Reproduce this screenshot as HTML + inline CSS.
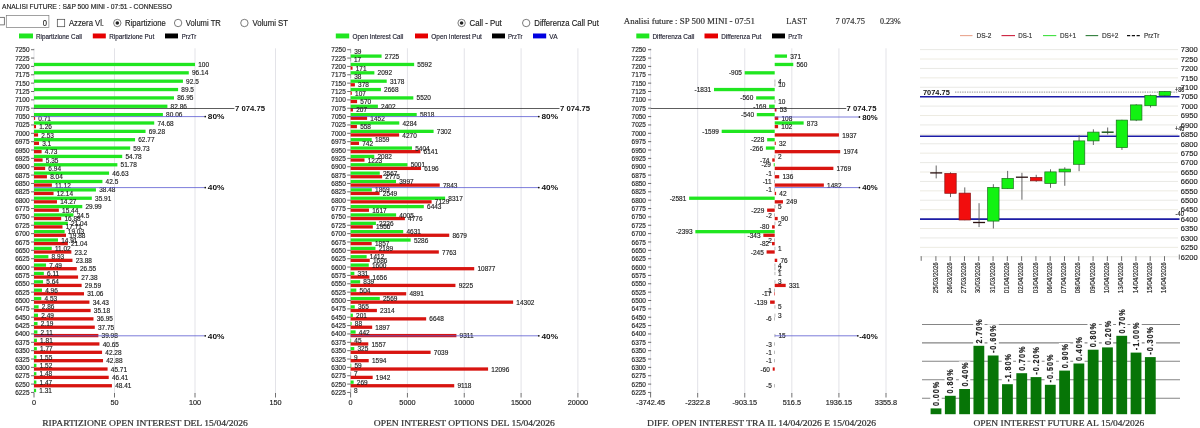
<!DOCTYPE html>
<html lang="it"><head><meta charset="utf-8"><title>ANALISI FUTURE : S&amp;P 500 MINI</title>
<style>html,body{margin:0;padding:0;background:#fff;overflow:hidden}body{width:1200px;height:428px}svg{display:block;filter:blur(0.35px);font-family:"Liberation Sans",sans-serif}</style>
</head><body>
<svg width="1200" height="428" viewBox="0 0 1200 428">
<rect width="1200" height="428" fill="#fff"/>
<text x="2.00" y="8.90" font-size="7" fill="#222" stroke="#222" stroke-width="0.16" textLength="170.00" lengthAdjust="spacingAndGlyphs">ANALISI FUTURE : S&amp;P 500 MINI - 07:51 - CONNESSO</text>
<rect x="-3" y="17.3" width="7.3" height="7.6" fill="#fff" stroke="#444" stroke-width="0.7"/>
<rect x="6.3" y="15.6" width="42.6" height="11.8" fill="#fff" stroke="#7a7a7a" stroke-width="0.7"/>
<text transform="translate(47.00 25.80) scale(0.9091 1)" font-size="8.36" fill="#222" text-anchor="end" stroke="#222" stroke-width="0.16">0</text>
<rect x="57.3" y="19.3" width="7.4" height="7.4" fill="#fff" stroke="#444" stroke-width="0.7"/>
<text x="69.00" y="26.20" font-size="8.6" fill="#222" stroke="#222" stroke-width="0.16" textLength="35.00" lengthAdjust="spacingAndGlyphs">Azzera Vl.</text>
<circle cx="117.3" cy="23" r="3.7" fill="#fff" stroke="#444" stroke-width="0.7"/>
<circle cx="117.3" cy="23" r="1.8" fill="#222"/>
<text x="125.00" y="26.20" font-size="8.6" fill="#222" stroke="#222" stroke-width="0.16" textLength="40.80" lengthAdjust="spacingAndGlyphs">Ripartizione</text>
<circle cx="178.1" cy="23" r="3.7" fill="#fff" stroke="#444" stroke-width="0.7"/>
<text x="185.80" y="26.20" font-size="8.6" fill="#222" stroke="#222" stroke-width="0.16" textLength="35.00" lengthAdjust="spacingAndGlyphs">Volumi TR</text>
<circle cx="244.4" cy="23" r="3.7" fill="#fff" stroke="#444" stroke-width="0.7"/>
<text x="252.50" y="26.20" font-size="8.6" fill="#222" stroke="#222" stroke-width="0.16" textLength="35.50" lengthAdjust="spacingAndGlyphs">Volumi ST</text>
<circle cx="461.6" cy="23" r="3.7" fill="#fff" stroke="#444" stroke-width="0.7"/>
<circle cx="461.6" cy="23" r="1.8" fill="#222"/>
<text x="469.50" y="26.20" font-size="8.6" fill="#222" stroke="#222" stroke-width="0.16" textLength="32.30" lengthAdjust="spacingAndGlyphs">Call - Put</text>
<circle cx="526.2" cy="23" r="3.7" fill="#fff" stroke="#444" stroke-width="0.7"/>
<text x="534.30" y="26.20" font-size="8.6" fill="#222" stroke="#222" stroke-width="0.16" textLength="64.50" lengthAdjust="spacingAndGlyphs">Differenza Call Put</text>
<text x="623.80" y="23.80" font-size="7.2" fill="#333" font-family='"Liberation Serif", serif' stroke="#333" stroke-width="0.16" textLength="131.20" lengthAdjust="spacingAndGlyphs">Analisi future : SP 500 MINI - 07:51</text>
<text x="786.30" y="23.80" font-size="7.2" fill="#333" font-family='"Liberation Serif", serif' stroke="#333" stroke-width="0.16" textLength="20.70" lengthAdjust="spacingAndGlyphs">LAST</text>
<text x="835.50" y="23.80" font-size="7.2" fill="#333" font-family='"Liberation Serif", serif' stroke="#333" stroke-width="0.16" textLength="29.50" lengthAdjust="spacingAndGlyphs">7 074.75</text>
<text x="880.00" y="23.80" font-size="7.2" fill="#333" font-family='"Liberation Serif", serif' stroke="#333" stroke-width="0.16" textLength="20.80" lengthAdjust="spacingAndGlyphs">0.23%</text>
<rect x="19.00" y="33.50" width="14.00" height="4.90" fill="#20e620"/>
<text x="36.00" y="38.70" font-size="7.0" fill="#223" stroke="#223" stroke-width="0.16" textLength="46.00" lengthAdjust="spacingAndGlyphs">Ripartizione Call</text>
<rect x="92.80" y="33.50" width="13.00" height="4.90" fill="#e60000"/>
<text x="109.20" y="38.70" font-size="7.0" fill="#223" stroke="#223" stroke-width="0.16" textLength="45.00" lengthAdjust="spacingAndGlyphs">Ripartizione Put</text>
<rect x="165.00" y="33.50" width="13.00" height="4.90" fill="#000"/>
<text x="181.70" y="38.70" font-size="7.0" fill="#223" stroke="#223" stroke-width="0.16" textLength="14.60" lengthAdjust="spacingAndGlyphs">PrzTr</text>
<rect x="335.80" y="33.50" width="13.40" height="4.90" fill="#20e620"/>
<text x="352.50" y="38.70" font-size="7.0" fill="#223" stroke="#223" stroke-width="0.16" textLength="50.80" lengthAdjust="spacingAndGlyphs">Open Interest Call</text>
<rect x="415.00" y="33.50" width="13.00" height="4.90" fill="#e60000"/>
<text x="431.30" y="38.70" font-size="7.0" fill="#223" stroke="#223" stroke-width="0.16" textLength="50.50" lengthAdjust="spacingAndGlyphs">Open Interest Put</text>
<rect x="492.00" y="33.50" width="13.00" height="4.90" fill="#000"/>
<text x="508.00" y="38.70" font-size="7.0" fill="#223" stroke="#223" stroke-width="0.16" textLength="14.50" lengthAdjust="spacingAndGlyphs">PrzTr</text>
<rect x="533.00" y="33.50" width="13.20" height="4.90" fill="#0000e0"/>
<text x="549.30" y="38.70" font-size="7.0" fill="#223" stroke="#223" stroke-width="0.16" textLength="8.20" lengthAdjust="spacingAndGlyphs">VA</text>
<rect x="636.30" y="33.50" width="13.00" height="4.90" fill="#20e620"/>
<text x="652.50" y="38.70" font-size="7.0" fill="#223" stroke="#223" stroke-width="0.16" textLength="41.80" lengthAdjust="spacingAndGlyphs">Differenza Call</text>
<rect x="704.50" y="33.50" width="13.50" height="4.90" fill="#e60000"/>
<text x="721.30" y="38.70" font-size="7.0" fill="#223" stroke="#223" stroke-width="0.16" textLength="40.00" lengthAdjust="spacingAndGlyphs">Differenza Put</text>
<rect x="772.00" y="33.50" width="13.00" height="4.90" fill="#000"/>
<text x="788.30" y="38.70" font-size="7.0" fill="#223" stroke="#223" stroke-width="0.16" textLength="14.30" lengthAdjust="spacingAndGlyphs">PrzTr</text>
<line x1="34.00" y1="48.30" x2="34.00" y2="393.50" stroke="#dcdce2" stroke-width="0.8"/>
<line x1="114.50" y1="48.30" x2="114.50" y2="393.50" stroke="#dcdce2" stroke-width="0.8"/>
<line x1="195.00" y1="48.30" x2="195.00" y2="393.50" stroke="#dcdce2" stroke-width="0.8"/>
<line x1="275.50" y1="48.30" x2="275.50" y2="393.50" stroke="#dcdce2" stroke-width="0.8"/>
<text transform="translate(29.60 52.25) scale(0.9091 1)" font-size="7.15" fill="#1c1c1c" text-anchor="end" stroke="#1c1c1c" stroke-width="0.16">7250</text>
<line x1="31.00" y1="49.70" x2="34.20" y2="49.70" stroke="#333" stroke-width="0.7"/>
<text transform="translate(29.60 60.61) scale(0.9091 1)" font-size="7.15" fill="#1c1c1c" text-anchor="end" stroke="#1c1c1c" stroke-width="0.16">7225</text>
<line x1="31.00" y1="58.06" x2="34.20" y2="58.06" stroke="#333" stroke-width="0.7"/>
<text transform="translate(29.60 68.97) scale(0.9091 1)" font-size="7.15" fill="#1c1c1c" text-anchor="end" stroke="#1c1c1c" stroke-width="0.16">7200</text>
<line x1="31.00" y1="66.42" x2="34.20" y2="66.42" stroke="#333" stroke-width="0.7"/>
<text transform="translate(29.60 77.33) scale(0.9091 1)" font-size="7.15" fill="#1c1c1c" text-anchor="end" stroke="#1c1c1c" stroke-width="0.16">7175</text>
<line x1="31.00" y1="74.78" x2="34.20" y2="74.78" stroke="#333" stroke-width="0.7"/>
<text transform="translate(29.60 85.69) scale(0.9091 1)" font-size="7.15" fill="#1c1c1c" text-anchor="end" stroke="#1c1c1c" stroke-width="0.16">7150</text>
<line x1="31.00" y1="83.14" x2="34.20" y2="83.14" stroke="#333" stroke-width="0.7"/>
<text transform="translate(29.60 94.05) scale(0.9091 1)" font-size="7.15" fill="#1c1c1c" text-anchor="end" stroke="#1c1c1c" stroke-width="0.16">7125</text>
<line x1="31.00" y1="91.50" x2="34.20" y2="91.50" stroke="#333" stroke-width="0.7"/>
<text transform="translate(29.60 102.41) scale(0.9091 1)" font-size="7.15" fill="#1c1c1c" text-anchor="end" stroke="#1c1c1c" stroke-width="0.16">7100</text>
<line x1="31.00" y1="99.86" x2="34.20" y2="99.86" stroke="#333" stroke-width="0.7"/>
<text transform="translate(29.60 110.77) scale(0.9091 1)" font-size="7.15" fill="#1c1c1c" text-anchor="end" stroke="#1c1c1c" stroke-width="0.16">7075</text>
<line x1="31.00" y1="108.22" x2="34.20" y2="108.22" stroke="#333" stroke-width="0.7"/>
<text transform="translate(29.60 119.13) scale(0.9091 1)" font-size="7.15" fill="#1c1c1c" text-anchor="end" stroke="#1c1c1c" stroke-width="0.16">7050</text>
<line x1="31.00" y1="116.58" x2="34.20" y2="116.58" stroke="#333" stroke-width="0.7"/>
<text transform="translate(29.60 127.49) scale(0.9091 1)" font-size="7.15" fill="#1c1c1c" text-anchor="end" stroke="#1c1c1c" stroke-width="0.16">7025</text>
<line x1="31.00" y1="124.94" x2="34.20" y2="124.94" stroke="#333" stroke-width="0.7"/>
<text transform="translate(29.60 135.85) scale(0.9091 1)" font-size="7.15" fill="#1c1c1c" text-anchor="end" stroke="#1c1c1c" stroke-width="0.16">7000</text>
<line x1="31.00" y1="133.30" x2="34.20" y2="133.30" stroke="#333" stroke-width="0.7"/>
<text transform="translate(29.60 144.21) scale(0.9091 1)" font-size="7.15" fill="#1c1c1c" text-anchor="end" stroke="#1c1c1c" stroke-width="0.16">6975</text>
<line x1="31.00" y1="141.66" x2="34.20" y2="141.66" stroke="#333" stroke-width="0.7"/>
<text transform="translate(29.60 152.57) scale(0.9091 1)" font-size="7.15" fill="#1c1c1c" text-anchor="end" stroke="#1c1c1c" stroke-width="0.16">6950</text>
<line x1="31.00" y1="150.02" x2="34.20" y2="150.02" stroke="#333" stroke-width="0.7"/>
<text transform="translate(29.60 160.93) scale(0.9091 1)" font-size="7.15" fill="#1c1c1c" text-anchor="end" stroke="#1c1c1c" stroke-width="0.16">6925</text>
<line x1="31.00" y1="158.38" x2="34.20" y2="158.38" stroke="#333" stroke-width="0.7"/>
<text transform="translate(29.60 169.29) scale(0.9091 1)" font-size="7.15" fill="#1c1c1c" text-anchor="end" stroke="#1c1c1c" stroke-width="0.16">6900</text>
<line x1="31.00" y1="166.74" x2="34.20" y2="166.74" stroke="#333" stroke-width="0.7"/>
<text transform="translate(29.60 177.65) scale(0.9091 1)" font-size="7.15" fill="#1c1c1c" text-anchor="end" stroke="#1c1c1c" stroke-width="0.16">6875</text>
<line x1="31.00" y1="175.10" x2="34.20" y2="175.10" stroke="#333" stroke-width="0.7"/>
<text transform="translate(29.60 186.01) scale(0.9091 1)" font-size="7.15" fill="#1c1c1c" text-anchor="end" stroke="#1c1c1c" stroke-width="0.16">6850</text>
<line x1="31.00" y1="183.46" x2="34.20" y2="183.46" stroke="#333" stroke-width="0.7"/>
<text transform="translate(29.60 194.37) scale(0.9091 1)" font-size="7.15" fill="#1c1c1c" text-anchor="end" stroke="#1c1c1c" stroke-width="0.16">6825</text>
<line x1="31.00" y1="191.82" x2="34.20" y2="191.82" stroke="#333" stroke-width="0.7"/>
<text transform="translate(29.60 202.73) scale(0.9091 1)" font-size="7.15" fill="#1c1c1c" text-anchor="end" stroke="#1c1c1c" stroke-width="0.16">6800</text>
<line x1="31.00" y1="200.18" x2="34.20" y2="200.18" stroke="#333" stroke-width="0.7"/>
<text transform="translate(29.60 211.09) scale(0.9091 1)" font-size="7.15" fill="#1c1c1c" text-anchor="end" stroke="#1c1c1c" stroke-width="0.16">6775</text>
<line x1="31.00" y1="208.54" x2="34.20" y2="208.54" stroke="#333" stroke-width="0.7"/>
<text transform="translate(29.60 219.45) scale(0.9091 1)" font-size="7.15" fill="#1c1c1c" text-anchor="end" stroke="#1c1c1c" stroke-width="0.16">6750</text>
<line x1="31.00" y1="216.90" x2="34.20" y2="216.90" stroke="#333" stroke-width="0.7"/>
<text transform="translate(29.60 227.81) scale(0.9091 1)" font-size="7.15" fill="#1c1c1c" text-anchor="end" stroke="#1c1c1c" stroke-width="0.16">6725</text>
<line x1="31.00" y1="225.26" x2="34.20" y2="225.26" stroke="#333" stroke-width="0.7"/>
<text transform="translate(29.60 236.17) scale(0.9091 1)" font-size="7.15" fill="#1c1c1c" text-anchor="end" stroke="#1c1c1c" stroke-width="0.16">6700</text>
<line x1="31.00" y1="233.62" x2="34.20" y2="233.62" stroke="#333" stroke-width="0.7"/>
<text transform="translate(29.60 244.53) scale(0.9091 1)" font-size="7.15" fill="#1c1c1c" text-anchor="end" stroke="#1c1c1c" stroke-width="0.16">6675</text>
<line x1="31.00" y1="241.98" x2="34.20" y2="241.98" stroke="#333" stroke-width="0.7"/>
<text transform="translate(29.60 252.89) scale(0.9091 1)" font-size="7.15" fill="#1c1c1c" text-anchor="end" stroke="#1c1c1c" stroke-width="0.16">6650</text>
<line x1="31.00" y1="250.34" x2="34.20" y2="250.34" stroke="#333" stroke-width="0.7"/>
<text transform="translate(29.60 261.25) scale(0.9091 1)" font-size="7.15" fill="#1c1c1c" text-anchor="end" stroke="#1c1c1c" stroke-width="0.16">6625</text>
<line x1="31.00" y1="258.70" x2="34.20" y2="258.70" stroke="#333" stroke-width="0.7"/>
<text transform="translate(29.60 269.61) scale(0.9091 1)" font-size="7.15" fill="#1c1c1c" text-anchor="end" stroke="#1c1c1c" stroke-width="0.16">6600</text>
<line x1="31.00" y1="267.06" x2="34.20" y2="267.06" stroke="#333" stroke-width="0.7"/>
<text transform="translate(29.60 277.97) scale(0.9091 1)" font-size="7.15" fill="#1c1c1c" text-anchor="end" stroke="#1c1c1c" stroke-width="0.16">6575</text>
<line x1="31.00" y1="275.42" x2="34.20" y2="275.42" stroke="#333" stroke-width="0.7"/>
<text transform="translate(29.60 286.33) scale(0.9091 1)" font-size="7.15" fill="#1c1c1c" text-anchor="end" stroke="#1c1c1c" stroke-width="0.16">6550</text>
<line x1="31.00" y1="283.78" x2="34.20" y2="283.78" stroke="#333" stroke-width="0.7"/>
<text transform="translate(29.60 294.69) scale(0.9091 1)" font-size="7.15" fill="#1c1c1c" text-anchor="end" stroke="#1c1c1c" stroke-width="0.16">6525</text>
<line x1="31.00" y1="292.14" x2="34.20" y2="292.14" stroke="#333" stroke-width="0.7"/>
<text transform="translate(29.60 303.05) scale(0.9091 1)" font-size="7.15" fill="#1c1c1c" text-anchor="end" stroke="#1c1c1c" stroke-width="0.16">6500</text>
<line x1="31.00" y1="300.50" x2="34.20" y2="300.50" stroke="#333" stroke-width="0.7"/>
<text transform="translate(29.60 311.41) scale(0.9091 1)" font-size="7.15" fill="#1c1c1c" text-anchor="end" stroke="#1c1c1c" stroke-width="0.16">6475</text>
<line x1="31.00" y1="308.86" x2="34.20" y2="308.86" stroke="#333" stroke-width="0.7"/>
<text transform="translate(29.60 319.77) scale(0.9091 1)" font-size="7.15" fill="#1c1c1c" text-anchor="end" stroke="#1c1c1c" stroke-width="0.16">6450</text>
<line x1="31.00" y1="317.22" x2="34.20" y2="317.22" stroke="#333" stroke-width="0.7"/>
<text transform="translate(29.60 328.13) scale(0.9091 1)" font-size="7.15" fill="#1c1c1c" text-anchor="end" stroke="#1c1c1c" stroke-width="0.16">6425</text>
<line x1="31.00" y1="325.58" x2="34.20" y2="325.58" stroke="#333" stroke-width="0.7"/>
<text transform="translate(29.60 336.49) scale(0.9091 1)" font-size="7.15" fill="#1c1c1c" text-anchor="end" stroke="#1c1c1c" stroke-width="0.16">6400</text>
<line x1="31.00" y1="333.94" x2="34.20" y2="333.94" stroke="#333" stroke-width="0.7"/>
<text transform="translate(29.60 344.85) scale(0.9091 1)" font-size="7.15" fill="#1c1c1c" text-anchor="end" stroke="#1c1c1c" stroke-width="0.16">6375</text>
<line x1="31.00" y1="342.30" x2="34.20" y2="342.30" stroke="#333" stroke-width="0.7"/>
<text transform="translate(29.60 353.21) scale(0.9091 1)" font-size="7.15" fill="#1c1c1c" text-anchor="end" stroke="#1c1c1c" stroke-width="0.16">6350</text>
<line x1="31.00" y1="350.66" x2="34.20" y2="350.66" stroke="#333" stroke-width="0.7"/>
<text transform="translate(29.60 361.57) scale(0.9091 1)" font-size="7.15" fill="#1c1c1c" text-anchor="end" stroke="#1c1c1c" stroke-width="0.16">6325</text>
<line x1="31.00" y1="359.02" x2="34.20" y2="359.02" stroke="#333" stroke-width="0.7"/>
<text transform="translate(29.60 369.93) scale(0.9091 1)" font-size="7.15" fill="#1c1c1c" text-anchor="end" stroke="#1c1c1c" stroke-width="0.16">6300</text>
<line x1="31.00" y1="367.38" x2="34.20" y2="367.38" stroke="#333" stroke-width="0.7"/>
<text transform="translate(29.60 378.29) scale(0.9091 1)" font-size="7.15" fill="#1c1c1c" text-anchor="end" stroke="#1c1c1c" stroke-width="0.16">6275</text>
<line x1="31.00" y1="375.74" x2="34.20" y2="375.74" stroke="#333" stroke-width="0.7"/>
<text transform="translate(29.60 386.65) scale(0.9091 1)" font-size="7.15" fill="#1c1c1c" text-anchor="end" stroke="#1c1c1c" stroke-width="0.16">6250</text>
<line x1="31.00" y1="384.10" x2="34.20" y2="384.10" stroke="#333" stroke-width="0.7"/>
<text transform="translate(29.60 395.01) scale(0.9091 1)" font-size="7.15" fill="#1c1c1c" text-anchor="end" stroke="#1c1c1c" stroke-width="0.16">6225</text>
<line x1="31.00" y1="392.46" x2="34.20" y2="392.46" stroke="#333" stroke-width="0.7"/>
<rect x="34.00" y="62.82" width="161.00" height="3.30" fill="#20e620"/>
<rect x="34.00" y="71.18" width="154.79" height="3.30" fill="#20e620"/>
<rect x="34.00" y="79.54" width="148.93" height="3.30" fill="#20e620"/>
<rect x="34.00" y="87.90" width="144.09" height="3.30" fill="#20e620"/>
<rect x="34.00" y="96.26" width="139.99" height="3.30" fill="#20e620"/>
<rect x="34.00" y="104.62" width="133.40" height="3.30" fill="#20e620"/>
<rect x="34.00" y="112.98" width="128.90" height="3.30" fill="#20e620"/>
<rect x="34.00" y="116.58" width="1.14" height="3.30" fill="#d81410"/>
<rect x="34.00" y="121.34" width="120.23" height="3.30" fill="#20e620"/>
<rect x="34.00" y="124.94" width="2.03" height="3.30" fill="#d81410"/>
<rect x="34.00" y="129.70" width="111.54" height="3.30" fill="#20e620"/>
<rect x="34.00" y="133.30" width="4.07" height="3.30" fill="#d81410"/>
<rect x="34.00" y="138.06" width="101.06" height="3.30" fill="#20e620"/>
<rect x="34.00" y="141.66" width="4.99" height="3.30" fill="#d81410"/>
<rect x="34.00" y="146.42" width="96.17" height="3.30" fill="#20e620"/>
<rect x="34.00" y="150.02" width="7.62" height="3.30" fill="#d81410"/>
<rect x="34.00" y="154.78" width="88.20" height="3.30" fill="#20e620"/>
<rect x="34.00" y="158.38" width="8.61" height="3.30" fill="#d81410"/>
<rect x="34.00" y="163.14" width="83.37" height="3.30" fill="#20e620"/>
<rect x="34.00" y="166.74" width="11.17" height="3.30" fill="#d81410"/>
<rect x="34.00" y="171.50" width="75.07" height="3.30" fill="#20e620"/>
<rect x="34.00" y="175.10" width="12.94" height="3.30" fill="#d81410"/>
<rect x="34.00" y="179.86" width="68.42" height="3.30" fill="#20e620"/>
<rect x="34.00" y="183.46" width="17.90" height="3.30" fill="#d81410"/>
<rect x="34.00" y="188.22" width="61.95" height="3.30" fill="#20e620"/>
<rect x="34.00" y="191.82" width="19.55" height="3.30" fill="#d81410"/>
<rect x="34.00" y="196.58" width="57.82" height="3.30" fill="#20e620"/>
<rect x="34.00" y="200.18" width="22.97" height="3.30" fill="#d81410"/>
<rect x="34.00" y="204.94" width="48.28" height="3.30" fill="#20e620"/>
<rect x="34.00" y="208.54" width="24.86" height="3.30" fill="#d81410"/>
<rect x="34.00" y="213.30" width="39.45" height="3.30" fill="#20e620"/>
<rect x="34.00" y="216.90" width="27.18" height="3.30" fill="#d81410"/>
<rect x="34.00" y="221.66" width="33.87" height="3.30" fill="#20e620"/>
<rect x="34.00" y="225.26" width="28.51" height="3.30" fill="#d81410"/>
<rect x="34.00" y="230.02" width="30.64" height="3.30" fill="#20e620"/>
<rect x="34.00" y="233.62" width="32.01" height="3.30" fill="#d81410"/>
<rect x="34.00" y="238.38" width="24.01" height="3.30" fill="#20e620"/>
<rect x="34.00" y="241.98" width="33.87" height="3.30" fill="#d81410"/>
<rect x="34.00" y="246.74" width="17.74" height="3.30" fill="#20e620"/>
<rect x="34.00" y="250.34" width="37.35" height="3.30" fill="#d81410"/>
<rect x="34.00" y="255.10" width="14.38" height="3.30" fill="#20e620"/>
<rect x="34.00" y="258.70" width="38.45" height="3.30" fill="#d81410"/>
<rect x="34.00" y="263.46" width="12.06" height="3.30" fill="#20e620"/>
<rect x="34.00" y="267.06" width="42.75" height="3.30" fill="#d81410"/>
<rect x="34.00" y="271.82" width="9.84" height="3.30" fill="#20e620"/>
<rect x="34.00" y="275.42" width="44.08" height="3.30" fill="#d81410"/>
<rect x="34.00" y="280.18" width="9.08" height="3.30" fill="#20e620"/>
<rect x="34.00" y="283.78" width="47.64" height="3.30" fill="#d81410"/>
<rect x="34.00" y="288.54" width="7.99" height="3.30" fill="#20e620"/>
<rect x="34.00" y="292.14" width="50.01" height="3.30" fill="#d81410"/>
<rect x="34.00" y="296.90" width="7.29" height="3.30" fill="#20e620"/>
<rect x="34.00" y="300.50" width="55.43" height="3.30" fill="#d81410"/>
<rect x="34.00" y="305.26" width="4.60" height="3.30" fill="#20e620"/>
<rect x="34.00" y="308.86" width="56.64" height="3.30" fill="#d81410"/>
<rect x="34.00" y="313.62" width="4.01" height="3.30" fill="#20e620"/>
<rect x="34.00" y="317.22" width="59.49" height="3.30" fill="#d81410"/>
<rect x="34.00" y="321.98" width="3.53" height="3.30" fill="#20e620"/>
<rect x="34.00" y="325.58" width="60.78" height="3.30" fill="#d81410"/>
<rect x="34.00" y="330.34" width="3.40" height="3.30" fill="#20e620"/>
<rect x="34.00" y="333.94" width="64.37" height="3.30" fill="#d81410"/>
<rect x="34.00" y="338.70" width="2.91" height="3.30" fill="#20e620"/>
<rect x="34.00" y="342.30" width="65.45" height="3.30" fill="#d81410"/>
<rect x="34.00" y="347.06" width="2.85" height="3.30" fill="#20e620"/>
<rect x="34.00" y="350.66" width="68.07" height="3.30" fill="#d81410"/>
<rect x="34.00" y="355.42" width="2.50" height="3.30" fill="#20e620"/>
<rect x="34.00" y="359.02" width="69.04" height="3.30" fill="#d81410"/>
<rect x="34.00" y="363.78" width="2.45" height="3.30" fill="#20e620"/>
<rect x="34.00" y="367.38" width="73.59" height="3.30" fill="#d81410"/>
<rect x="34.00" y="372.14" width="2.38" height="3.30" fill="#20e620"/>
<rect x="34.00" y="375.74" width="74.72" height="3.30" fill="#d81410"/>
<rect x="34.00" y="380.50" width="2.37" height="3.30" fill="#20e620"/>
<rect x="34.00" y="384.10" width="77.94" height="3.30" fill="#d81410"/>
<rect x="34.00" y="388.86" width="2.11" height="3.30" fill="#20e620"/>
<text transform="translate(198.20 67.02) scale(0.9091 1)" font-size="7.15" fill="#1c1c1c" stroke="#1c1c1c" stroke-width="0.16">100</text>
<text transform="translate(191.99 75.38) scale(0.9091 1)" font-size="7.15" fill="#1c1c1c" stroke="#1c1c1c" stroke-width="0.16">96.14</text>
<text transform="translate(186.12 83.74) scale(0.9091 1)" font-size="7.15" fill="#1c1c1c" stroke="#1c1c1c" stroke-width="0.16">92.5</text>
<text transform="translate(181.29 92.10) scale(0.9091 1)" font-size="7.15" fill="#1c1c1c" stroke="#1c1c1c" stroke-width="0.16">89.5</text>
<text transform="translate(177.19 100.46) scale(0.9091 1)" font-size="7.15" fill="#1c1c1c" stroke="#1c1c1c" stroke-width="0.16">86.95</text>
<text transform="translate(170.60 108.82) scale(0.9091 1)" font-size="7.15" fill="#1c1c1c" stroke="#1c1c1c" stroke-width="0.16">82.86</text>
<text transform="translate(166.10 117.18) scale(0.9091 1)" font-size="7.15" fill="#1c1c1c" stroke="#1c1c1c" stroke-width="0.16">80.06</text>
<text transform="translate(38.34 120.78) scale(0.9091 1)" font-size="7.15" fill="#1c1c1c" stroke="#1c1c1c" stroke-width="0.16">0.71</text>
<text transform="translate(157.43 125.54) scale(0.9091 1)" font-size="7.15" fill="#1c1c1c" stroke="#1c1c1c" stroke-width="0.16">74.68</text>
<text transform="translate(39.23 129.14) scale(0.9091 1)" font-size="7.15" fill="#1c1c1c" stroke="#1c1c1c" stroke-width="0.16">1.26</text>
<text transform="translate(148.74 133.90) scale(0.9091 1)" font-size="7.15" fill="#1c1c1c" stroke="#1c1c1c" stroke-width="0.16">69.28</text>
<text transform="translate(41.27 137.50) scale(0.9091 1)" font-size="7.15" fill="#1c1c1c" stroke="#1c1c1c" stroke-width="0.16">2.53</text>
<text transform="translate(138.26 142.26) scale(0.9091 1)" font-size="7.15" fill="#1c1c1c" stroke="#1c1c1c" stroke-width="0.16">62.77</text>
<text transform="translate(42.19 145.86) scale(0.9091 1)" font-size="7.15" fill="#1c1c1c" stroke="#1c1c1c" stroke-width="0.16">3.1</text>
<text transform="translate(133.37 150.62) scale(0.9091 1)" font-size="7.15" fill="#1c1c1c" stroke="#1c1c1c" stroke-width="0.16">59.73</text>
<text transform="translate(44.82 154.22) scale(0.9091 1)" font-size="7.15" fill="#1c1c1c" stroke="#1c1c1c" stroke-width="0.16">4.73</text>
<text transform="translate(125.40 158.98) scale(0.9091 1)" font-size="7.15" fill="#1c1c1c" stroke="#1c1c1c" stroke-width="0.16">54.78</text>
<text transform="translate(45.81 162.58) scale(0.9091 1)" font-size="7.15" fill="#1c1c1c" stroke="#1c1c1c" stroke-width="0.16">5.35</text>
<text transform="translate(120.57 167.34) scale(0.9091 1)" font-size="7.15" fill="#1c1c1c" stroke="#1c1c1c" stroke-width="0.16">51.78</text>
<text transform="translate(48.37 170.94) scale(0.9091 1)" font-size="7.15" fill="#1c1c1c" stroke="#1c1c1c" stroke-width="0.16">6.94</text>
<text transform="translate(112.27 175.70) scale(0.9091 1)" font-size="7.15" fill="#1c1c1c" stroke="#1c1c1c" stroke-width="0.16">46.63</text>
<text transform="translate(50.14 179.30) scale(0.9091 1)" font-size="7.15" fill="#1c1c1c" stroke="#1c1c1c" stroke-width="0.16">8.04</text>
<text transform="translate(105.62 184.06) scale(0.9091 1)" font-size="7.15" fill="#1c1c1c" stroke="#1c1c1c" stroke-width="0.16">42.5</text>
<text transform="translate(55.10 187.66) scale(0.9091 1)" font-size="7.15" fill="#1c1c1c" stroke="#1c1c1c" stroke-width="0.16">11.12</text>
<text transform="translate(99.15 192.42) scale(0.9091 1)" font-size="7.15" fill="#1c1c1c" stroke="#1c1c1c" stroke-width="0.16">38.48</text>
<text transform="translate(56.75 196.02) scale(0.9091 1)" font-size="7.15" fill="#1c1c1c" stroke="#1c1c1c" stroke-width="0.16">12.14</text>
<text transform="translate(95.02 200.78) scale(0.9091 1)" font-size="7.15" fill="#1c1c1c" stroke="#1c1c1c" stroke-width="0.16">35.91</text>
<text transform="translate(60.17 204.38) scale(0.9091 1)" font-size="7.15" fill="#1c1c1c" stroke="#1c1c1c" stroke-width="0.16">14.27</text>
<text transform="translate(85.48 209.14) scale(0.9091 1)" font-size="7.15" fill="#1c1c1c" stroke="#1c1c1c" stroke-width="0.16">29.99</text>
<text transform="translate(62.06 212.74) scale(0.9091 1)" font-size="7.15" fill="#1c1c1c" stroke="#1c1c1c" stroke-width="0.16">15.44</text>
<text transform="translate(76.64 217.50) scale(0.9091 1)" font-size="7.15" fill="#1c1c1c" stroke="#1c1c1c" stroke-width="0.16">24.5</text>
<text transform="translate(64.38 221.10) scale(0.9091 1)" font-size="7.15" fill="#1c1c1c" stroke="#1c1c1c" stroke-width="0.16">16.88</text>
<text transform="translate(71.07 225.86) scale(0.9091 1)" font-size="7.15" fill="#1c1c1c" stroke="#1c1c1c" stroke-width="0.16">21.04</text>
<text transform="translate(65.71 229.46) scale(0.9091 1)" font-size="7.15" fill="#1c1c1c" stroke="#1c1c1c" stroke-width="0.16">17.71</text>
<text transform="translate(67.84 234.22) scale(0.9091 1)" font-size="7.15" fill="#1c1c1c" stroke="#1c1c1c" stroke-width="0.16">19.03</text>
<text transform="translate(69.21 237.82) scale(0.9091 1)" font-size="7.15" fill="#1c1c1c" stroke="#1c1c1c" stroke-width="0.16">19.88</text>
<text transform="translate(61.21 242.58) scale(0.9091 1)" font-size="7.15" fill="#1c1c1c" stroke="#1c1c1c" stroke-width="0.16">14.91</text>
<text transform="translate(71.07 246.18) scale(0.9091 1)" font-size="7.15" fill="#1c1c1c" stroke="#1c1c1c" stroke-width="0.16">21.04</text>
<text transform="translate(54.94 250.94) scale(0.9091 1)" font-size="7.15" fill="#1c1c1c" stroke="#1c1c1c" stroke-width="0.16">11.02</text>
<text transform="translate(74.55 254.54) scale(0.9091 1)" font-size="7.15" fill="#1c1c1c" stroke="#1c1c1c" stroke-width="0.16">23.2</text>
<text transform="translate(51.58 259.30) scale(0.9091 1)" font-size="7.15" fill="#1c1c1c" stroke="#1c1c1c" stroke-width="0.16">8.93</text>
<text transform="translate(75.65 262.90) scale(0.9091 1)" font-size="7.15" fill="#1c1c1c" stroke="#1c1c1c" stroke-width="0.16">23.88</text>
<text transform="translate(49.26 267.66) scale(0.9091 1)" font-size="7.15" fill="#1c1c1c" stroke="#1c1c1c" stroke-width="0.16">7.49</text>
<text transform="translate(79.95 271.26) scale(0.9091 1)" font-size="7.15" fill="#1c1c1c" stroke="#1c1c1c" stroke-width="0.16">26.55</text>
<text transform="translate(47.04 276.02) scale(0.9091 1)" font-size="7.15" fill="#1c1c1c" stroke="#1c1c1c" stroke-width="0.16">6.11</text>
<text transform="translate(81.28 279.62) scale(0.9091 1)" font-size="7.15" fill="#1c1c1c" stroke="#1c1c1c" stroke-width="0.16">27.38</text>
<text transform="translate(46.28 284.38) scale(0.9091 1)" font-size="7.15" fill="#1c1c1c" stroke="#1c1c1c" stroke-width="0.16">5.64</text>
<text transform="translate(84.84 287.98) scale(0.9091 1)" font-size="7.15" fill="#1c1c1c" stroke="#1c1c1c" stroke-width="0.16">29.59</text>
<text transform="translate(45.19 292.74) scale(0.9091 1)" font-size="7.15" fill="#1c1c1c" stroke="#1c1c1c" stroke-width="0.16">4.96</text>
<text transform="translate(87.21 296.34) scale(0.9091 1)" font-size="7.15" fill="#1c1c1c" stroke="#1c1c1c" stroke-width="0.16">31.06</text>
<text transform="translate(44.49 301.10) scale(0.9091 1)" font-size="7.15" fill="#1c1c1c" stroke="#1c1c1c" stroke-width="0.16">4.53</text>
<text transform="translate(92.63 304.70) scale(0.9091 1)" font-size="7.15" fill="#1c1c1c" stroke="#1c1c1c" stroke-width="0.16">34.43</text>
<text transform="translate(41.80 309.46) scale(0.9091 1)" font-size="7.15" fill="#1c1c1c" stroke="#1c1c1c" stroke-width="0.16">2.86</text>
<text transform="translate(93.84 313.06) scale(0.9091 1)" font-size="7.15" fill="#1c1c1c" stroke="#1c1c1c" stroke-width="0.16">35.18</text>
<text transform="translate(41.21 317.82) scale(0.9091 1)" font-size="7.15" fill="#1c1c1c" stroke="#1c1c1c" stroke-width="0.16">2.49</text>
<text transform="translate(96.69 321.42) scale(0.9091 1)" font-size="7.15" fill="#1c1c1c" stroke="#1c1c1c" stroke-width="0.16">36.95</text>
<text transform="translate(40.73 326.18) scale(0.9091 1)" font-size="7.15" fill="#1c1c1c" stroke="#1c1c1c" stroke-width="0.16">2.19</text>
<text transform="translate(97.98 329.78) scale(0.9091 1)" font-size="7.15" fill="#1c1c1c" stroke="#1c1c1c" stroke-width="0.16">37.75</text>
<text transform="translate(40.60 334.54) scale(0.9091 1)" font-size="7.15" fill="#1c1c1c" stroke="#1c1c1c" stroke-width="0.16">2.11</text>
<text transform="translate(101.57 338.14) scale(0.9091 1)" font-size="7.15" fill="#1c1c1c" stroke="#1c1c1c" stroke-width="0.16">39.98</text>
<text transform="translate(40.11 342.90) scale(0.9091 1)" font-size="7.15" fill="#1c1c1c" stroke="#1c1c1c" stroke-width="0.16">1.81</text>
<text transform="translate(102.65 346.50) scale(0.9091 1)" font-size="7.15" fill="#1c1c1c" stroke="#1c1c1c" stroke-width="0.16">40.65</text>
<text transform="translate(40.05 351.26) scale(0.9091 1)" font-size="7.15" fill="#1c1c1c" stroke="#1c1c1c" stroke-width="0.16">1.77</text>
<text transform="translate(105.27 354.86) scale(0.9091 1)" font-size="7.15" fill="#1c1c1c" stroke="#1c1c1c" stroke-width="0.16">42.28</text>
<text transform="translate(39.70 359.62) scale(0.9091 1)" font-size="7.15" fill="#1c1c1c" stroke="#1c1c1c" stroke-width="0.16">1.55</text>
<text transform="translate(106.24 363.22) scale(0.9091 1)" font-size="7.15" fill="#1c1c1c" stroke="#1c1c1c" stroke-width="0.16">42.88</text>
<text transform="translate(39.65 367.98) scale(0.9091 1)" font-size="7.15" fill="#1c1c1c" stroke="#1c1c1c" stroke-width="0.16">1.52</text>
<text transform="translate(110.79 371.58) scale(0.9091 1)" font-size="7.15" fill="#1c1c1c" stroke="#1c1c1c" stroke-width="0.16">45.71</text>
<text transform="translate(39.58 376.34) scale(0.9091 1)" font-size="7.15" fill="#1c1c1c" stroke="#1c1c1c" stroke-width="0.16">1.48</text>
<text transform="translate(111.92 379.94) scale(0.9091 1)" font-size="7.15" fill="#1c1c1c" stroke="#1c1c1c" stroke-width="0.16">46.41</text>
<text transform="translate(39.57 384.70) scale(0.9091 1)" font-size="7.15" fill="#1c1c1c" stroke="#1c1c1c" stroke-width="0.16">1.47</text>
<text transform="translate(115.14 388.30) scale(0.9091 1)" font-size="7.15" fill="#1c1c1c" stroke="#1c1c1c" stroke-width="0.16">48.41</text>
<text transform="translate(39.31 393.06) scale(0.9091 1)" font-size="7.15" fill="#1c1c1c" stroke="#1c1c1c" stroke-width="0.16">1.31</text>
<line x1="34.00" y1="393.00" x2="34.00" y2="397.50" stroke="#333" stroke-width="0.7"/>
<text transform="translate(34.00 405.20) scale(0.9346 1)" font-size="7.81" fill="#1c1c1c" text-anchor="middle" stroke="#1c1c1c" stroke-width="0.16">0</text>
<line x1="114.50" y1="393.00" x2="114.50" y2="397.50" stroke="#333" stroke-width="0.7"/>
<text transform="translate(114.50 405.20) scale(0.9346 1)" font-size="7.81" fill="#1c1c1c" text-anchor="middle" stroke="#1c1c1c" stroke-width="0.16">50</text>
<line x1="195.00" y1="393.00" x2="195.00" y2="397.50" stroke="#333" stroke-width="0.7"/>
<text transform="translate(195.00 405.20) scale(0.9346 1)" font-size="7.81" fill="#1c1c1c" text-anchor="middle" stroke="#1c1c1c" stroke-width="0.16">100</text>
<line x1="275.50" y1="393.00" x2="275.50" y2="397.50" stroke="#333" stroke-width="0.7"/>
<text transform="translate(275.50 405.20) scale(0.9346 1)" font-size="7.81" fill="#1c1c1c" text-anchor="middle" stroke="#1c1c1c" stroke-width="0.16">150</text>
<line x1="34.00" y1="108.50" x2="234.40" y2="108.50" stroke="#333" stroke-width="0.8"/>
<text x="235.00" y="111.20" font-size="7.5" fill="#111" font-weight="bold" textLength="30.00" lengthAdjust="spacingAndGlyphs">7 074.75</text>
<line x1="34.00" y1="116.60" x2="204.40" y2="116.60" stroke="#5a5ad0" stroke-width="0.8"/>
<circle cx="205.20" cy="116.60" r="0.9" fill="#111"/>
<text x="207.80" y="119.40" font-size="7.5" fill="#111" font-weight="bold" textLength="16.60" lengthAdjust="spacingAndGlyphs">80%</text>
<line x1="34.00" y1="187.60" x2="204.40" y2="187.60" stroke="#5a5ad0" stroke-width="0.8"/>
<circle cx="205.20" cy="187.60" r="0.9" fill="#111"/>
<text x="207.80" y="190.40" font-size="7.5" fill="#111" font-weight="bold" textLength="16.60" lengthAdjust="spacingAndGlyphs">40%</text>
<line x1="34.00" y1="335.80" x2="204.40" y2="335.80" stroke="#5a5ad0" stroke-width="0.8"/>
<circle cx="205.20" cy="335.80" r="0.9" fill="#111"/>
<text x="207.80" y="338.60" font-size="7.5" fill="#111" font-weight="bold" textLength="16.60" lengthAdjust="spacingAndGlyphs">40%</text>
<text x="145.00" y="426.00" font-size="8.6" fill="#333" text-anchor="middle" font-family='"Liberation Serif", serif' stroke="#333" stroke-width="0.22" textLength="205.50" lengthAdjust="spacingAndGlyphs">RIPARTIZIONE OPEN INTEREST DEL 15/04/2026</text>
<line x1="350.60" y1="48.30" x2="350.60" y2="393.50" stroke="#dcdce2" stroke-width="0.8"/>
<line x1="407.43" y1="48.30" x2="407.43" y2="393.50" stroke="#dcdce2" stroke-width="0.8"/>
<line x1="464.25" y1="48.30" x2="464.25" y2="393.50" stroke="#dcdce2" stroke-width="0.8"/>
<line x1="521.08" y1="48.30" x2="521.08" y2="393.50" stroke="#dcdce2" stroke-width="0.8"/>
<line x1="577.90" y1="48.30" x2="577.90" y2="393.50" stroke="#dcdce2" stroke-width="0.8"/>
<text transform="translate(345.80 52.25) scale(0.9091 1)" font-size="7.15" fill="#1c1c1c" text-anchor="end" stroke="#1c1c1c" stroke-width="0.16">7250</text>
<line x1="347.20" y1="49.70" x2="350.80" y2="49.70" stroke="#333" stroke-width="0.7"/>
<text transform="translate(345.80 60.61) scale(0.9091 1)" font-size="7.15" fill="#1c1c1c" text-anchor="end" stroke="#1c1c1c" stroke-width="0.16">7225</text>
<line x1="347.20" y1="58.06" x2="350.80" y2="58.06" stroke="#333" stroke-width="0.7"/>
<text transform="translate(345.80 68.97) scale(0.9091 1)" font-size="7.15" fill="#1c1c1c" text-anchor="end" stroke="#1c1c1c" stroke-width="0.16">7200</text>
<line x1="347.20" y1="66.42" x2="350.80" y2="66.42" stroke="#333" stroke-width="0.7"/>
<text transform="translate(345.80 77.33) scale(0.9091 1)" font-size="7.15" fill="#1c1c1c" text-anchor="end" stroke="#1c1c1c" stroke-width="0.16">7175</text>
<line x1="347.20" y1="74.78" x2="350.80" y2="74.78" stroke="#333" stroke-width="0.7"/>
<text transform="translate(345.80 85.69) scale(0.9091 1)" font-size="7.15" fill="#1c1c1c" text-anchor="end" stroke="#1c1c1c" stroke-width="0.16">7150</text>
<line x1="347.20" y1="83.14" x2="350.80" y2="83.14" stroke="#333" stroke-width="0.7"/>
<text transform="translate(345.80 94.05) scale(0.9091 1)" font-size="7.15" fill="#1c1c1c" text-anchor="end" stroke="#1c1c1c" stroke-width="0.16">7125</text>
<line x1="347.20" y1="91.50" x2="350.80" y2="91.50" stroke="#333" stroke-width="0.7"/>
<text transform="translate(345.80 102.41) scale(0.9091 1)" font-size="7.15" fill="#1c1c1c" text-anchor="end" stroke="#1c1c1c" stroke-width="0.16">7100</text>
<line x1="347.20" y1="99.86" x2="350.80" y2="99.86" stroke="#333" stroke-width="0.7"/>
<text transform="translate(345.80 110.77) scale(0.9091 1)" font-size="7.15" fill="#1c1c1c" text-anchor="end" stroke="#1c1c1c" stroke-width="0.16">7075</text>
<line x1="347.20" y1="108.22" x2="350.80" y2="108.22" stroke="#333" stroke-width="0.7"/>
<text transform="translate(345.80 119.13) scale(0.9091 1)" font-size="7.15" fill="#1c1c1c" text-anchor="end" stroke="#1c1c1c" stroke-width="0.16">7050</text>
<line x1="347.20" y1="116.58" x2="350.80" y2="116.58" stroke="#333" stroke-width="0.7"/>
<text transform="translate(345.80 127.49) scale(0.9091 1)" font-size="7.15" fill="#1c1c1c" text-anchor="end" stroke="#1c1c1c" stroke-width="0.16">7025</text>
<line x1="347.20" y1="124.94" x2="350.80" y2="124.94" stroke="#333" stroke-width="0.7"/>
<text transform="translate(345.80 135.85) scale(0.9091 1)" font-size="7.15" fill="#1c1c1c" text-anchor="end" stroke="#1c1c1c" stroke-width="0.16">7000</text>
<line x1="347.20" y1="133.30" x2="350.80" y2="133.30" stroke="#333" stroke-width="0.7"/>
<text transform="translate(345.80 144.21) scale(0.9091 1)" font-size="7.15" fill="#1c1c1c" text-anchor="end" stroke="#1c1c1c" stroke-width="0.16">6975</text>
<line x1="347.20" y1="141.66" x2="350.80" y2="141.66" stroke="#333" stroke-width="0.7"/>
<text transform="translate(345.80 152.57) scale(0.9091 1)" font-size="7.15" fill="#1c1c1c" text-anchor="end" stroke="#1c1c1c" stroke-width="0.16">6950</text>
<line x1="347.20" y1="150.02" x2="350.80" y2="150.02" stroke="#333" stroke-width="0.7"/>
<text transform="translate(345.80 160.93) scale(0.9091 1)" font-size="7.15" fill="#1c1c1c" text-anchor="end" stroke="#1c1c1c" stroke-width="0.16">6925</text>
<line x1="347.20" y1="158.38" x2="350.80" y2="158.38" stroke="#333" stroke-width="0.7"/>
<text transform="translate(345.80 169.29) scale(0.9091 1)" font-size="7.15" fill="#1c1c1c" text-anchor="end" stroke="#1c1c1c" stroke-width="0.16">6900</text>
<line x1="347.20" y1="166.74" x2="350.80" y2="166.74" stroke="#333" stroke-width="0.7"/>
<text transform="translate(345.80 177.65) scale(0.9091 1)" font-size="7.15" fill="#1c1c1c" text-anchor="end" stroke="#1c1c1c" stroke-width="0.16">6875</text>
<line x1="347.20" y1="175.10" x2="350.80" y2="175.10" stroke="#333" stroke-width="0.7"/>
<text transform="translate(345.80 186.01) scale(0.9091 1)" font-size="7.15" fill="#1c1c1c" text-anchor="end" stroke="#1c1c1c" stroke-width="0.16">6850</text>
<line x1="347.20" y1="183.46" x2="350.80" y2="183.46" stroke="#333" stroke-width="0.7"/>
<text transform="translate(345.80 194.37) scale(0.9091 1)" font-size="7.15" fill="#1c1c1c" text-anchor="end" stroke="#1c1c1c" stroke-width="0.16">6825</text>
<line x1="347.20" y1="191.82" x2="350.80" y2="191.82" stroke="#333" stroke-width="0.7"/>
<text transform="translate(345.80 202.73) scale(0.9091 1)" font-size="7.15" fill="#1c1c1c" text-anchor="end" stroke="#1c1c1c" stroke-width="0.16">6800</text>
<line x1="347.20" y1="200.18" x2="350.80" y2="200.18" stroke="#333" stroke-width="0.7"/>
<text transform="translate(345.80 211.09) scale(0.9091 1)" font-size="7.15" fill="#1c1c1c" text-anchor="end" stroke="#1c1c1c" stroke-width="0.16">6775</text>
<line x1="347.20" y1="208.54" x2="350.80" y2="208.54" stroke="#333" stroke-width="0.7"/>
<text transform="translate(345.80 219.45) scale(0.9091 1)" font-size="7.15" fill="#1c1c1c" text-anchor="end" stroke="#1c1c1c" stroke-width="0.16">6750</text>
<line x1="347.20" y1="216.90" x2="350.80" y2="216.90" stroke="#333" stroke-width="0.7"/>
<text transform="translate(345.80 227.81) scale(0.9091 1)" font-size="7.15" fill="#1c1c1c" text-anchor="end" stroke="#1c1c1c" stroke-width="0.16">6725</text>
<line x1="347.20" y1="225.26" x2="350.80" y2="225.26" stroke="#333" stroke-width="0.7"/>
<text transform="translate(345.80 236.17) scale(0.9091 1)" font-size="7.15" fill="#1c1c1c" text-anchor="end" stroke="#1c1c1c" stroke-width="0.16">6700</text>
<line x1="347.20" y1="233.62" x2="350.80" y2="233.62" stroke="#333" stroke-width="0.7"/>
<text transform="translate(345.80 244.53) scale(0.9091 1)" font-size="7.15" fill="#1c1c1c" text-anchor="end" stroke="#1c1c1c" stroke-width="0.16">6675</text>
<line x1="347.20" y1="241.98" x2="350.80" y2="241.98" stroke="#333" stroke-width="0.7"/>
<text transform="translate(345.80 252.89) scale(0.9091 1)" font-size="7.15" fill="#1c1c1c" text-anchor="end" stroke="#1c1c1c" stroke-width="0.16">6650</text>
<line x1="347.20" y1="250.34" x2="350.80" y2="250.34" stroke="#333" stroke-width="0.7"/>
<text transform="translate(345.80 261.25) scale(0.9091 1)" font-size="7.15" fill="#1c1c1c" text-anchor="end" stroke="#1c1c1c" stroke-width="0.16">6625</text>
<line x1="347.20" y1="258.70" x2="350.80" y2="258.70" stroke="#333" stroke-width="0.7"/>
<text transform="translate(345.80 269.61) scale(0.9091 1)" font-size="7.15" fill="#1c1c1c" text-anchor="end" stroke="#1c1c1c" stroke-width="0.16">6600</text>
<line x1="347.20" y1="267.06" x2="350.80" y2="267.06" stroke="#333" stroke-width="0.7"/>
<text transform="translate(345.80 277.97) scale(0.9091 1)" font-size="7.15" fill="#1c1c1c" text-anchor="end" stroke="#1c1c1c" stroke-width="0.16">6575</text>
<line x1="347.20" y1="275.42" x2="350.80" y2="275.42" stroke="#333" stroke-width="0.7"/>
<text transform="translate(345.80 286.33) scale(0.9091 1)" font-size="7.15" fill="#1c1c1c" text-anchor="end" stroke="#1c1c1c" stroke-width="0.16">6550</text>
<line x1="347.20" y1="283.78" x2="350.80" y2="283.78" stroke="#333" stroke-width="0.7"/>
<text transform="translate(345.80 294.69) scale(0.9091 1)" font-size="7.15" fill="#1c1c1c" text-anchor="end" stroke="#1c1c1c" stroke-width="0.16">6525</text>
<line x1="347.20" y1="292.14" x2="350.80" y2="292.14" stroke="#333" stroke-width="0.7"/>
<text transform="translate(345.80 303.05) scale(0.9091 1)" font-size="7.15" fill="#1c1c1c" text-anchor="end" stroke="#1c1c1c" stroke-width="0.16">6500</text>
<line x1="347.20" y1="300.50" x2="350.80" y2="300.50" stroke="#333" stroke-width="0.7"/>
<text transform="translate(345.80 311.41) scale(0.9091 1)" font-size="7.15" fill="#1c1c1c" text-anchor="end" stroke="#1c1c1c" stroke-width="0.16">6475</text>
<line x1="347.20" y1="308.86" x2="350.80" y2="308.86" stroke="#333" stroke-width="0.7"/>
<text transform="translate(345.80 319.77) scale(0.9091 1)" font-size="7.15" fill="#1c1c1c" text-anchor="end" stroke="#1c1c1c" stroke-width="0.16">6450</text>
<line x1="347.20" y1="317.22" x2="350.80" y2="317.22" stroke="#333" stroke-width="0.7"/>
<text transform="translate(345.80 328.13) scale(0.9091 1)" font-size="7.15" fill="#1c1c1c" text-anchor="end" stroke="#1c1c1c" stroke-width="0.16">6425</text>
<line x1="347.20" y1="325.58" x2="350.80" y2="325.58" stroke="#333" stroke-width="0.7"/>
<text transform="translate(345.80 336.49) scale(0.9091 1)" font-size="7.15" fill="#1c1c1c" text-anchor="end" stroke="#1c1c1c" stroke-width="0.16">6400</text>
<line x1="347.20" y1="333.94" x2="350.80" y2="333.94" stroke="#333" stroke-width="0.7"/>
<text transform="translate(345.80 344.85) scale(0.9091 1)" font-size="7.15" fill="#1c1c1c" text-anchor="end" stroke="#1c1c1c" stroke-width="0.16">6375</text>
<line x1="347.20" y1="342.30" x2="350.80" y2="342.30" stroke="#333" stroke-width="0.7"/>
<text transform="translate(345.80 353.21) scale(0.9091 1)" font-size="7.15" fill="#1c1c1c" text-anchor="end" stroke="#1c1c1c" stroke-width="0.16">6350</text>
<line x1="347.20" y1="350.66" x2="350.80" y2="350.66" stroke="#333" stroke-width="0.7"/>
<text transform="translate(345.80 361.57) scale(0.9091 1)" font-size="7.15" fill="#1c1c1c" text-anchor="end" stroke="#1c1c1c" stroke-width="0.16">6325</text>
<line x1="347.20" y1="359.02" x2="350.80" y2="359.02" stroke="#333" stroke-width="0.7"/>
<text transform="translate(345.80 369.93) scale(0.9091 1)" font-size="7.15" fill="#1c1c1c" text-anchor="end" stroke="#1c1c1c" stroke-width="0.16">6300</text>
<line x1="347.20" y1="367.38" x2="350.80" y2="367.38" stroke="#333" stroke-width="0.7"/>
<text transform="translate(345.80 378.29) scale(0.9091 1)" font-size="7.15" fill="#1c1c1c" text-anchor="end" stroke="#1c1c1c" stroke-width="0.16">6275</text>
<line x1="347.20" y1="375.74" x2="350.80" y2="375.74" stroke="#333" stroke-width="0.7"/>
<text transform="translate(345.80 386.65) scale(0.9091 1)" font-size="7.15" fill="#1c1c1c" text-anchor="end" stroke="#1c1c1c" stroke-width="0.16">6250</text>
<line x1="347.20" y1="384.10" x2="350.80" y2="384.10" stroke="#333" stroke-width="0.7"/>
<text transform="translate(345.80 395.01) scale(0.9091 1)" font-size="7.15" fill="#1c1c1c" text-anchor="end" stroke="#1c1c1c" stroke-width="0.16">6225</text>
<line x1="347.20" y1="392.46" x2="350.80" y2="392.46" stroke="#333" stroke-width="0.7"/>
<rect x="350.60" y="49.70" width="0.50" height="3.30" fill="#777"/>
<rect x="350.60" y="54.46" width="30.97" height="3.30" fill="#20e620"/>
<rect x="350.60" y="58.06" width="0.50" height="3.30" fill="#777"/>
<rect x="350.60" y="62.82" width="63.55" height="3.30" fill="#20e620"/>
<rect x="350.60" y="66.42" width="1.94" height="3.30" fill="#d81410"/>
<rect x="350.60" y="71.18" width="23.78" height="3.30" fill="#20e620"/>
<rect x="350.60" y="74.78" width="0.50" height="3.30" fill="#777"/>
<rect x="350.60" y="79.54" width="36.12" height="3.30" fill="#20e620"/>
<rect x="350.60" y="83.14" width="4.30" height="3.30" fill="#d81410"/>
<rect x="350.60" y="87.90" width="30.32" height="3.30" fill="#20e620"/>
<rect x="350.60" y="91.50" width="1.22" height="3.30" fill="#d81410"/>
<rect x="350.60" y="96.26" width="62.73" height="3.30" fill="#20e620"/>
<rect x="350.60" y="99.86" width="6.48" height="3.30" fill="#d81410"/>
<rect x="350.60" y="104.62" width="27.30" height="3.30" fill="#20e620"/>
<rect x="350.60" y="108.22" width="2.35" height="3.30" fill="#d81410"/>
<rect x="350.60" y="112.98" width="66.12" height="3.30" fill="#20e620"/>
<rect x="350.60" y="116.58" width="16.50" height="3.30" fill="#d81410"/>
<rect x="350.60" y="121.34" width="48.69" height="3.30" fill="#20e620"/>
<rect x="350.60" y="124.94" width="6.34" height="3.30" fill="#d81410"/>
<rect x="350.60" y="129.70" width="82.99" height="3.30" fill="#20e620"/>
<rect x="350.60" y="133.30" width="48.53" height="3.30" fill="#d81410"/>
<rect x="350.60" y="138.06" width="21.13" height="3.30" fill="#20e620"/>
<rect x="350.60" y="141.66" width="8.43" height="3.30" fill="#d81410"/>
<rect x="350.60" y="146.42" width="61.42" height="3.30" fill="#20e620"/>
<rect x="350.60" y="150.02" width="69.79" height="3.30" fill="#d81410"/>
<rect x="350.60" y="154.78" width="23.66" height="3.30" fill="#20e620"/>
<rect x="350.60" y="158.38" width="13.90" height="3.30" fill="#d81410"/>
<rect x="350.60" y="163.14" width="56.84" height="3.30" fill="#20e620"/>
<rect x="350.60" y="166.74" width="70.42" height="3.30" fill="#d81410"/>
<rect x="350.60" y="171.50" width="29.17" height="3.30" fill="#20e620"/>
<rect x="350.60" y="175.10" width="31.54" height="3.30" fill="#d81410"/>
<rect x="350.60" y="179.86" width="45.43" height="3.30" fill="#20e620"/>
<rect x="350.60" y="183.46" width="89.14" height="3.30" fill="#d81410"/>
<rect x="350.60" y="188.22" width="21.24" height="3.30" fill="#20e620"/>
<rect x="350.60" y="191.82" width="28.97" height="3.30" fill="#d81410"/>
<rect x="350.60" y="196.58" width="94.52" height="3.30" fill="#20e620"/>
<rect x="350.60" y="200.18" width="81.02" height="3.30" fill="#d81410"/>
<rect x="350.60" y="204.94" width="73.22" height="3.30" fill="#20e620"/>
<rect x="350.60" y="208.54" width="18.38" height="3.30" fill="#d81410"/>
<rect x="350.60" y="213.30" width="45.52" height="3.30" fill="#20e620"/>
<rect x="350.60" y="216.90" width="54.28" height="3.30" fill="#d81410"/>
<rect x="350.60" y="221.66" width="25.30" height="3.30" fill="#20e620"/>
<rect x="350.60" y="225.26" width="22.23" height="3.30" fill="#d81410"/>
<rect x="350.60" y="230.02" width="52.63" height="3.30" fill="#20e620"/>
<rect x="350.60" y="233.62" width="98.64" height="3.30" fill="#d81410"/>
<rect x="350.60" y="238.38" width="60.08" height="3.30" fill="#20e620"/>
<rect x="350.60" y="241.98" width="21.10" height="3.30" fill="#d81410"/>
<rect x="350.60" y="246.74" width="24.88" height="3.30" fill="#20e620"/>
<rect x="350.60" y="250.34" width="88.23" height="3.30" fill="#d81410"/>
<rect x="350.60" y="255.10" width="16.05" height="3.30" fill="#20e620"/>
<rect x="350.60" y="258.70" width="19.16" height="3.30" fill="#d81410"/>
<rect x="350.60" y="263.46" width="18.18" height="3.30" fill="#20e620"/>
<rect x="350.60" y="267.06" width="123.62" height="3.30" fill="#d81410"/>
<rect x="350.60" y="271.82" width="3.76" height="3.30" fill="#20e620"/>
<rect x="350.60" y="275.42" width="18.82" height="3.30" fill="#d81410"/>
<rect x="350.60" y="280.18" width="9.54" height="3.30" fill="#20e620"/>
<rect x="350.60" y="283.78" width="104.84" height="3.30" fill="#d81410"/>
<rect x="350.60" y="288.54" width="5.73" height="3.30" fill="#20e620"/>
<rect x="350.60" y="292.14" width="55.59" height="3.30" fill="#d81410"/>
<rect x="350.60" y="296.90" width="29.20" height="3.30" fill="#20e620"/>
<rect x="350.60" y="300.50" width="162.54" height="3.30" fill="#d81410"/>
<rect x="350.60" y="305.26" width="4.15" height="3.30" fill="#20e620"/>
<rect x="350.60" y="308.86" width="26.30" height="3.30" fill="#d81410"/>
<rect x="350.60" y="313.62" width="2.28" height="3.30" fill="#20e620"/>
<rect x="350.60" y="317.22" width="75.55" height="3.30" fill="#d81410"/>
<rect x="350.60" y="321.98" width="1.00" height="3.30" fill="#20e620"/>
<rect x="350.60" y="325.58" width="21.56" height="3.30" fill="#d81410"/>
<rect x="350.60" y="330.34" width="5.02" height="3.30" fill="#20e620"/>
<rect x="350.60" y="333.94" width="105.82" height="3.30" fill="#d81410"/>
<rect x="350.60" y="338.70" width="0.51" height="3.30" fill="#20e620"/>
<rect x="350.60" y="342.30" width="17.70" height="3.30" fill="#d81410"/>
<rect x="350.60" y="347.06" width="3.69" height="3.30" fill="#20e620"/>
<rect x="350.60" y="350.66" width="80.00" height="3.30" fill="#d81410"/>
<rect x="350.60" y="355.42" width="0.50" height="3.30" fill="#777"/>
<rect x="350.60" y="359.02" width="18.12" height="3.30" fill="#d81410"/>
<rect x="350.60" y="363.78" width="0.67" height="3.30" fill="#20e620"/>
<rect x="350.60" y="367.38" width="137.47" height="3.30" fill="#d81410"/>
<rect x="350.60" y="372.14" width="0.50" height="3.30" fill="#777"/>
<rect x="350.60" y="375.74" width="22.07" height="3.30" fill="#d81410"/>
<rect x="350.60" y="380.50" width="3.06" height="3.30" fill="#20e620"/>
<rect x="350.60" y="384.10" width="103.63" height="3.30" fill="#d81410"/>
<rect x="350.60" y="388.86" width="0.50" height="3.30" fill="#777"/>
<text transform="translate(354.24 53.90) scale(0.9091 1)" font-size="7.15" fill="#1c1c1c" stroke="#1c1c1c" stroke-width="0.16">39</text>
<text transform="translate(384.77 58.66) scale(0.9091 1)" font-size="7.15" fill="#1c1c1c" stroke="#1c1c1c" stroke-width="0.16">2725</text>
<text transform="translate(353.99 62.26) scale(0.9091 1)" font-size="7.15" fill="#1c1c1c" stroke="#1c1c1c" stroke-width="0.16">17</text>
<text transform="translate(417.35 67.02) scale(0.9091 1)" font-size="7.15" fill="#1c1c1c" stroke="#1c1c1c" stroke-width="0.16">5592</text>
<text transform="translate(355.74 70.62) scale(0.9091 1)" font-size="7.15" fill="#1c1c1c" stroke="#1c1c1c" stroke-width="0.16">171</text>
<text transform="translate(377.58 75.38) scale(0.9091 1)" font-size="7.15" fill="#1c1c1c" stroke="#1c1c1c" stroke-width="0.16">2092</text>
<text transform="translate(354.23 78.98) scale(0.9091 1)" font-size="7.15" fill="#1c1c1c" stroke="#1c1c1c" stroke-width="0.16">38</text>
<text transform="translate(389.92 83.74) scale(0.9091 1)" font-size="7.15" fill="#1c1c1c" stroke="#1c1c1c" stroke-width="0.16">3178</text>
<text transform="translate(358.10 87.34) scale(0.9091 1)" font-size="7.15" fill="#1c1c1c" stroke="#1c1c1c" stroke-width="0.16">378</text>
<text transform="translate(384.12 92.10) scale(0.9091 1)" font-size="7.15" fill="#1c1c1c" stroke="#1c1c1c" stroke-width="0.16">2668</text>
<text transform="translate(355.02 95.70) scale(0.9091 1)" font-size="7.15" fill="#1c1c1c" stroke="#1c1c1c" stroke-width="0.16">107</text>
<text transform="translate(416.53 100.46) scale(0.9091 1)" font-size="7.15" fill="#1c1c1c" stroke="#1c1c1c" stroke-width="0.16">5520</text>
<text transform="translate(360.28 104.06) scale(0.9091 1)" font-size="7.15" fill="#1c1c1c" stroke="#1c1c1c" stroke-width="0.16">570</text>
<text transform="translate(381.10 108.82) scale(0.9091 1)" font-size="7.15" fill="#1c1c1c" stroke="#1c1c1c" stroke-width="0.16">2402</text>
<text transform="translate(356.15 112.42) scale(0.9091 1)" font-size="7.15" fill="#1c1c1c" stroke="#1c1c1c" stroke-width="0.16">207</text>
<text transform="translate(419.92 117.18) scale(0.9091 1)" font-size="7.15" fill="#1c1c1c" stroke="#1c1c1c" stroke-width="0.16">5818</text>
<text transform="translate(370.30 120.78) scale(0.9091 1)" font-size="7.15" fill="#1c1c1c" stroke="#1c1c1c" stroke-width="0.16">1452</text>
<text transform="translate(402.49 125.54) scale(0.9091 1)" font-size="7.15" fill="#1c1c1c" stroke="#1c1c1c" stroke-width="0.16">4284</text>
<text transform="translate(360.14 129.14) scale(0.9091 1)" font-size="7.15" fill="#1c1c1c" stroke="#1c1c1c" stroke-width="0.16">558</text>
<text transform="translate(436.79 133.90) scale(0.9091 1)" font-size="7.15" fill="#1c1c1c" stroke="#1c1c1c" stroke-width="0.16">7302</text>
<text transform="translate(402.33 137.50) scale(0.9091 1)" font-size="7.15" fill="#1c1c1c" stroke="#1c1c1c" stroke-width="0.16">4270</text>
<text transform="translate(374.93 142.26) scale(0.9091 1)" font-size="7.15" fill="#1c1c1c" stroke="#1c1c1c" stroke-width="0.16">1859</text>
<text transform="translate(362.23 145.86) scale(0.9091 1)" font-size="7.15" fill="#1c1c1c" stroke="#1c1c1c" stroke-width="0.16">742</text>
<text transform="translate(415.22 150.62) scale(0.9091 1)" font-size="7.15" fill="#1c1c1c" stroke="#1c1c1c" stroke-width="0.16">5404</text>
<text transform="translate(423.59 154.22) scale(0.9091 1)" font-size="7.15" fill="#1c1c1c" stroke="#1c1c1c" stroke-width="0.16">6141</text>
<text transform="translate(377.46 158.98) scale(0.9091 1)" font-size="7.15" fill="#1c1c1c" stroke="#1c1c1c" stroke-width="0.16">2082</text>
<text transform="translate(367.70 162.58) scale(0.9091 1)" font-size="7.15" fill="#1c1c1c" stroke="#1c1c1c" stroke-width="0.16">1223</text>
<text transform="translate(410.64 167.34) scale(0.9091 1)" font-size="7.15" fill="#1c1c1c" stroke="#1c1c1c" stroke-width="0.16">5001</text>
<text transform="translate(424.22 170.94) scale(0.9091 1)" font-size="7.15" fill="#1c1c1c" stroke="#1c1c1c" stroke-width="0.16">6196</text>
<text transform="translate(382.97 175.70) scale(0.9091 1)" font-size="7.15" fill="#1c1c1c" stroke="#1c1c1c" stroke-width="0.16">2567</text>
<text transform="translate(385.34 179.30) scale(0.9091 1)" font-size="7.15" fill="#1c1c1c" stroke="#1c1c1c" stroke-width="0.16">2775</text>
<text transform="translate(399.23 184.06) scale(0.9091 1)" font-size="7.15" fill="#1c1c1c" stroke="#1c1c1c" stroke-width="0.16">3997</text>
<text transform="translate(442.94 187.66) scale(0.9091 1)" font-size="7.15" fill="#1c1c1c" stroke="#1c1c1c" stroke-width="0.16">7843</text>
<text transform="translate(375.04 192.42) scale(0.9091 1)" font-size="7.15" fill="#1c1c1c" stroke="#1c1c1c" stroke-width="0.16">1869</text>
<text transform="translate(382.77 196.02) scale(0.9091 1)" font-size="7.15" fill="#1c1c1c" stroke="#1c1c1c" stroke-width="0.16">2549</text>
<text transform="translate(448.32 200.78) scale(0.9091 1)" font-size="7.15" fill="#1c1c1c" stroke="#1c1c1c" stroke-width="0.16">8317</text>
<text transform="translate(434.82 204.38) scale(0.9091 1)" font-size="7.15" fill="#1c1c1c" stroke="#1c1c1c" stroke-width="0.16">7129</text>
<text transform="translate(427.02 209.14) scale(0.9091 1)" font-size="7.15" fill="#1c1c1c" stroke="#1c1c1c" stroke-width="0.16">6443</text>
<text transform="translate(372.18 212.74) scale(0.9091 1)" font-size="7.15" fill="#1c1c1c" stroke="#1c1c1c" stroke-width="0.16">1617</text>
<text transform="translate(399.32 217.50) scale(0.9091 1)" font-size="7.15" fill="#1c1c1c" stroke="#1c1c1c" stroke-width="0.16">4005</text>
<text transform="translate(408.08 221.10) scale(0.9091 1)" font-size="7.15" fill="#1c1c1c" stroke="#1c1c1c" stroke-width="0.16">4776</text>
<text transform="translate(379.10 225.86) scale(0.9091 1)" font-size="7.15" fill="#1c1c1c" stroke="#1c1c1c" stroke-width="0.16">2226</text>
<text transform="translate(376.03 229.46) scale(0.9091 1)" font-size="7.15" fill="#1c1c1c" stroke="#1c1c1c" stroke-width="0.16">1956</text>
<text transform="translate(406.43 234.22) scale(0.9091 1)" font-size="7.15" fill="#1c1c1c" stroke="#1c1c1c" stroke-width="0.16">4631</text>
<text transform="translate(452.44 237.82) scale(0.9091 1)" font-size="7.15" fill="#1c1c1c" stroke="#1c1c1c" stroke-width="0.16">8679</text>
<text transform="translate(413.88 242.58) scale(0.9091 1)" font-size="7.15" fill="#1c1c1c" stroke="#1c1c1c" stroke-width="0.16">5286</text>
<text transform="translate(374.90 246.18) scale(0.9091 1)" font-size="7.15" fill="#1c1c1c" stroke="#1c1c1c" stroke-width="0.16">1857</text>
<text transform="translate(378.68 250.94) scale(0.9091 1)" font-size="7.15" fill="#1c1c1c" stroke="#1c1c1c" stroke-width="0.16">2189</text>
<text transform="translate(442.03 254.54) scale(0.9091 1)" font-size="7.15" fill="#1c1c1c" stroke="#1c1c1c" stroke-width="0.16">7763</text>
<text transform="translate(369.85 259.30) scale(0.9091 1)" font-size="7.15" fill="#1c1c1c" stroke="#1c1c1c" stroke-width="0.16">1412</text>
<text transform="translate(372.96 262.90) scale(0.9091 1)" font-size="7.15" fill="#1c1c1c" stroke="#1c1c1c" stroke-width="0.16">1686</text>
<text transform="translate(371.98 267.66) scale(0.9091 1)" font-size="7.15" fill="#1c1c1c" stroke="#1c1c1c" stroke-width="0.16">1600</text>
<text transform="translate(477.42 271.26) scale(0.9091 1)" font-size="7.15" fill="#1c1c1c" stroke="#1c1c1c" stroke-width="0.16">10877</text>
<text transform="translate(357.56 276.02) scale(0.9091 1)" font-size="7.15" fill="#1c1c1c" stroke="#1c1c1c" stroke-width="0.16">331</text>
<text transform="translate(372.62 279.62) scale(0.9091 1)" font-size="7.15" fill="#1c1c1c" stroke="#1c1c1c" stroke-width="0.16">1656</text>
<text transform="translate(363.34 284.38) scale(0.9091 1)" font-size="7.15" fill="#1c1c1c" stroke="#1c1c1c" stroke-width="0.16">839</text>
<text transform="translate(458.64 287.98) scale(0.9091 1)" font-size="7.15" fill="#1c1c1c" stroke="#1c1c1c" stroke-width="0.16">9225</text>
<text transform="translate(359.53 292.74) scale(0.9091 1)" font-size="7.15" fill="#1c1c1c" stroke="#1c1c1c" stroke-width="0.16">504</text>
<text transform="translate(409.39 296.34) scale(0.9091 1)" font-size="7.15" fill="#1c1c1c" stroke="#1c1c1c" stroke-width="0.16">4891</text>
<text transform="translate(383.00 301.10) scale(0.9091 1)" font-size="7.15" fill="#1c1c1c" stroke="#1c1c1c" stroke-width="0.16">2569</text>
<text transform="translate(516.34 304.70) scale(0.9091 1)" font-size="7.15" fill="#1c1c1c" stroke="#1c1c1c" stroke-width="0.16">14302</text>
<text transform="translate(357.95 309.46) scale(0.9091 1)" font-size="7.15" fill="#1c1c1c" stroke="#1c1c1c" stroke-width="0.16">365</text>
<text transform="translate(380.10 313.06) scale(0.9091 1)" font-size="7.15" fill="#1c1c1c" stroke="#1c1c1c" stroke-width="0.16">2314</text>
<text transform="translate(356.08 317.82) scale(0.9091 1)" font-size="7.15" fill="#1c1c1c" stroke="#1c1c1c" stroke-width="0.16">201</text>
<text transform="translate(429.35 321.42) scale(0.9091 1)" font-size="7.15" fill="#1c1c1c" stroke="#1c1c1c" stroke-width="0.16">6648</text>
<text transform="translate(354.80 326.18) scale(0.9091 1)" font-size="7.15" fill="#1c1c1c" stroke="#1c1c1c" stroke-width="0.16">88</text>
<text transform="translate(375.36 329.78) scale(0.9091 1)" font-size="7.15" fill="#1c1c1c" stroke="#1c1c1c" stroke-width="0.16">1897</text>
<text transform="translate(358.82 334.54) scale(0.9091 1)" font-size="7.15" fill="#1c1c1c" stroke="#1c1c1c" stroke-width="0.16">442</text>
<text transform="translate(459.62 338.14) scale(0.9091 1)" font-size="7.15" fill="#1c1c1c" stroke="#1c1c1c" stroke-width="0.16">9311</text>
<text transform="translate(354.31 342.90) scale(0.9091 1)" font-size="7.15" fill="#1c1c1c" stroke="#1c1c1c" stroke-width="0.16">45</text>
<text transform="translate(371.50 346.50) scale(0.9091 1)" font-size="7.15" fill="#1c1c1c" stroke="#1c1c1c" stroke-width="0.16">1557</text>
<text transform="translate(357.49 351.26) scale(0.9091 1)" font-size="7.15" fill="#1c1c1c" stroke="#1c1c1c" stroke-width="0.16">325</text>
<text transform="translate(433.80 354.86) scale(0.9091 1)" font-size="7.15" fill="#1c1c1c" stroke="#1c1c1c" stroke-width="0.16">7039</text>
<text transform="translate(353.90 359.62) scale(0.9091 1)" font-size="7.15" fill="#1c1c1c" stroke="#1c1c1c" stroke-width="0.16">9</text>
<text transform="translate(371.92 363.22) scale(0.9091 1)" font-size="7.15" fill="#1c1c1c" stroke="#1c1c1c" stroke-width="0.16">1594</text>
<text transform="translate(354.47 367.98) scale(0.9091 1)" font-size="7.15" fill="#1c1c1c" stroke="#1c1c1c" stroke-width="0.16">59</text>
<text transform="translate(491.27 371.58) scale(0.9091 1)" font-size="7.15" fill="#1c1c1c" stroke="#1c1c1c" stroke-width="0.16">12096</text>
<text transform="translate(353.88 376.34) scale(0.9091 1)" font-size="7.15" fill="#1c1c1c" stroke="#1c1c1c" stroke-width="0.16">7</text>
<text transform="translate(375.87 379.94) scale(0.9091 1)" font-size="7.15" fill="#1c1c1c" stroke="#1c1c1c" stroke-width="0.16">1942</text>
<text transform="translate(356.86 384.70) scale(0.9091 1)" font-size="7.15" fill="#1c1c1c" stroke="#1c1c1c" stroke-width="0.16">269</text>
<text transform="translate(457.43 388.30) scale(0.9091 1)" font-size="7.15" fill="#1c1c1c" stroke="#1c1c1c" stroke-width="0.16">9118</text>
<text transform="translate(353.89 393.06) scale(0.9091 1)" font-size="7.15" fill="#1c1c1c" stroke="#1c1c1c" stroke-width="0.16">8</text>
<line x1="350.60" y1="393.00" x2="350.60" y2="397.50" stroke="#333" stroke-width="0.7"/>
<text transform="translate(350.60 405.20) scale(0.9346 1)" font-size="7.81" fill="#1c1c1c" text-anchor="middle" stroke="#1c1c1c" stroke-width="0.16">0</text>
<line x1="407.43" y1="393.00" x2="407.43" y2="397.50" stroke="#333" stroke-width="0.7"/>
<text transform="translate(407.43 405.20) scale(0.9346 1)" font-size="7.81" fill="#1c1c1c" text-anchor="middle" stroke="#1c1c1c" stroke-width="0.16">5000</text>
<line x1="464.25" y1="393.00" x2="464.25" y2="397.50" stroke="#333" stroke-width="0.7"/>
<text transform="translate(464.25 405.20) scale(0.9346 1)" font-size="7.81" fill="#1c1c1c" text-anchor="middle" stroke="#1c1c1c" stroke-width="0.16">10000</text>
<line x1="521.08" y1="393.00" x2="521.08" y2="397.50" stroke="#333" stroke-width="0.7"/>
<text transform="translate(521.08 405.20) scale(0.9346 1)" font-size="7.81" fill="#1c1c1c" text-anchor="middle" stroke="#1c1c1c" stroke-width="0.16">15000</text>
<line x1="577.90" y1="393.00" x2="577.90" y2="397.50" stroke="#333" stroke-width="0.7"/>
<text transform="translate(577.90 405.20) scale(0.9346 1)" font-size="7.81" fill="#1c1c1c" text-anchor="middle" stroke="#1c1c1c" stroke-width="0.16">20000</text>
<line x1="350.60" y1="108.50" x2="559.50" y2="108.50" stroke="#333" stroke-width="0.8"/>
<text x="560.00" y="111.20" font-size="7.5" fill="#111" font-weight="bold" textLength="30.00" lengthAdjust="spacingAndGlyphs">7 074.75</text>
<line x1="350.60" y1="116.60" x2="538.00" y2="116.60" stroke="#5a5ad0" stroke-width="0.8"/>
<circle cx="538.80" cy="116.60" r="0.9" fill="#111"/>
<text x="541.50" y="119.40" font-size="7.5" fill="#111" font-weight="bold" textLength="16.60" lengthAdjust="spacingAndGlyphs">80%</text>
<line x1="350.60" y1="187.60" x2="538.00" y2="187.60" stroke="#5a5ad0" stroke-width="0.8"/>
<circle cx="538.80" cy="187.60" r="0.9" fill="#111"/>
<text x="541.50" y="190.40" font-size="7.5" fill="#111" font-weight="bold" textLength="16.60" lengthAdjust="spacingAndGlyphs">40%</text>
<line x1="350.60" y1="335.80" x2="538.00" y2="335.80" stroke="#5a5ad0" stroke-width="0.8"/>
<circle cx="538.80" cy="335.80" r="0.9" fill="#111"/>
<text x="541.50" y="338.60" font-size="7.5" fill="#111" font-weight="bold" textLength="16.60" lengthAdjust="spacingAndGlyphs">40%</text>
<text x="464.30" y="426.00" font-size="8.6" fill="#333" text-anchor="middle" font-family='"Liberation Serif", serif' stroke="#333" stroke-width="0.22" textLength="181.00" lengthAdjust="spacingAndGlyphs">OPEN INTEREST OPTIONS DEL 15/04/2026</text>
<line x1="650.60" y1="48.30" x2="650.60" y2="393.50" stroke="#dcdce2" stroke-width="0.8"/>
<line x1="697.68" y1="48.30" x2="697.68" y2="393.50" stroke="#dcdce2" stroke-width="0.8"/>
<line x1="744.76" y1="48.30" x2="744.76" y2="393.50" stroke="#dcdce2" stroke-width="0.8"/>
<line x1="791.84" y1="48.30" x2="791.84" y2="393.50" stroke="#dcdce2" stroke-width="0.8"/>
<line x1="838.92" y1="48.30" x2="838.92" y2="393.50" stroke="#dcdce2" stroke-width="0.8"/>
<line x1="886.00" y1="48.30" x2="886.00" y2="393.50" stroke="#dcdce2" stroke-width="0.8"/>
<text transform="translate(646.00 52.25) scale(0.9091 1)" font-size="7.15" fill="#1c1c1c" text-anchor="end" stroke="#1c1c1c" stroke-width="0.16">7250</text>
<line x1="648.00" y1="49.70" x2="651.20" y2="49.70" stroke="#333" stroke-width="0.7"/>
<text transform="translate(646.00 60.61) scale(0.9091 1)" font-size="7.15" fill="#1c1c1c" text-anchor="end" stroke="#1c1c1c" stroke-width="0.16">7225</text>
<line x1="648.00" y1="58.06" x2="651.20" y2="58.06" stroke="#333" stroke-width="0.7"/>
<text transform="translate(646.00 68.97) scale(0.9091 1)" font-size="7.15" fill="#1c1c1c" text-anchor="end" stroke="#1c1c1c" stroke-width="0.16">7200</text>
<line x1="648.00" y1="66.42" x2="651.20" y2="66.42" stroke="#333" stroke-width="0.7"/>
<text transform="translate(646.00 77.33) scale(0.9091 1)" font-size="7.15" fill="#1c1c1c" text-anchor="end" stroke="#1c1c1c" stroke-width="0.16">7175</text>
<line x1="648.00" y1="74.78" x2="651.20" y2="74.78" stroke="#333" stroke-width="0.7"/>
<text transform="translate(646.00 85.69) scale(0.9091 1)" font-size="7.15" fill="#1c1c1c" text-anchor="end" stroke="#1c1c1c" stroke-width="0.16">7150</text>
<line x1="648.00" y1="83.14" x2="651.20" y2="83.14" stroke="#333" stroke-width="0.7"/>
<text transform="translate(646.00 94.05) scale(0.9091 1)" font-size="7.15" fill="#1c1c1c" text-anchor="end" stroke="#1c1c1c" stroke-width="0.16">7125</text>
<line x1="648.00" y1="91.50" x2="651.20" y2="91.50" stroke="#333" stroke-width="0.7"/>
<text transform="translate(646.00 102.41) scale(0.9091 1)" font-size="7.15" fill="#1c1c1c" text-anchor="end" stroke="#1c1c1c" stroke-width="0.16">7100</text>
<line x1="648.00" y1="99.86" x2="651.20" y2="99.86" stroke="#333" stroke-width="0.7"/>
<text transform="translate(646.00 110.77) scale(0.9091 1)" font-size="7.15" fill="#1c1c1c" text-anchor="end" stroke="#1c1c1c" stroke-width="0.16">7075</text>
<line x1="648.00" y1="108.22" x2="651.20" y2="108.22" stroke="#333" stroke-width="0.7"/>
<text transform="translate(646.00 119.13) scale(0.9091 1)" font-size="7.15" fill="#1c1c1c" text-anchor="end" stroke="#1c1c1c" stroke-width="0.16">7050</text>
<line x1="648.00" y1="116.58" x2="651.20" y2="116.58" stroke="#333" stroke-width="0.7"/>
<text transform="translate(646.00 127.49) scale(0.9091 1)" font-size="7.15" fill="#1c1c1c" text-anchor="end" stroke="#1c1c1c" stroke-width="0.16">7025</text>
<line x1="648.00" y1="124.94" x2="651.20" y2="124.94" stroke="#333" stroke-width="0.7"/>
<text transform="translate(646.00 135.85) scale(0.9091 1)" font-size="7.15" fill="#1c1c1c" text-anchor="end" stroke="#1c1c1c" stroke-width="0.16">7000</text>
<line x1="648.00" y1="133.30" x2="651.20" y2="133.30" stroke="#333" stroke-width="0.7"/>
<text transform="translate(646.00 144.21) scale(0.9091 1)" font-size="7.15" fill="#1c1c1c" text-anchor="end" stroke="#1c1c1c" stroke-width="0.16">6975</text>
<line x1="648.00" y1="141.66" x2="651.20" y2="141.66" stroke="#333" stroke-width="0.7"/>
<text transform="translate(646.00 152.57) scale(0.9091 1)" font-size="7.15" fill="#1c1c1c" text-anchor="end" stroke="#1c1c1c" stroke-width="0.16">6950</text>
<line x1="648.00" y1="150.02" x2="651.20" y2="150.02" stroke="#333" stroke-width="0.7"/>
<text transform="translate(646.00 160.93) scale(0.9091 1)" font-size="7.15" fill="#1c1c1c" text-anchor="end" stroke="#1c1c1c" stroke-width="0.16">6925</text>
<line x1="648.00" y1="158.38" x2="651.20" y2="158.38" stroke="#333" stroke-width="0.7"/>
<text transform="translate(646.00 169.29) scale(0.9091 1)" font-size="7.15" fill="#1c1c1c" text-anchor="end" stroke="#1c1c1c" stroke-width="0.16">6900</text>
<line x1="648.00" y1="166.74" x2="651.20" y2="166.74" stroke="#333" stroke-width="0.7"/>
<text transform="translate(646.00 177.65) scale(0.9091 1)" font-size="7.15" fill="#1c1c1c" text-anchor="end" stroke="#1c1c1c" stroke-width="0.16">6875</text>
<line x1="648.00" y1="175.10" x2="651.20" y2="175.10" stroke="#333" stroke-width="0.7"/>
<text transform="translate(646.00 186.01) scale(0.9091 1)" font-size="7.15" fill="#1c1c1c" text-anchor="end" stroke="#1c1c1c" stroke-width="0.16">6850</text>
<line x1="648.00" y1="183.46" x2="651.20" y2="183.46" stroke="#333" stroke-width="0.7"/>
<text transform="translate(646.00 194.37) scale(0.9091 1)" font-size="7.15" fill="#1c1c1c" text-anchor="end" stroke="#1c1c1c" stroke-width="0.16">6825</text>
<line x1="648.00" y1="191.82" x2="651.20" y2="191.82" stroke="#333" stroke-width="0.7"/>
<text transform="translate(646.00 202.73) scale(0.9091 1)" font-size="7.15" fill="#1c1c1c" text-anchor="end" stroke="#1c1c1c" stroke-width="0.16">6800</text>
<line x1="648.00" y1="200.18" x2="651.20" y2="200.18" stroke="#333" stroke-width="0.7"/>
<text transform="translate(646.00 211.09) scale(0.9091 1)" font-size="7.15" fill="#1c1c1c" text-anchor="end" stroke="#1c1c1c" stroke-width="0.16">6775</text>
<line x1="648.00" y1="208.54" x2="651.20" y2="208.54" stroke="#333" stroke-width="0.7"/>
<text transform="translate(646.00 219.45) scale(0.9091 1)" font-size="7.15" fill="#1c1c1c" text-anchor="end" stroke="#1c1c1c" stroke-width="0.16">6750</text>
<line x1="648.00" y1="216.90" x2="651.20" y2="216.90" stroke="#333" stroke-width="0.7"/>
<text transform="translate(646.00 227.81) scale(0.9091 1)" font-size="7.15" fill="#1c1c1c" text-anchor="end" stroke="#1c1c1c" stroke-width="0.16">6725</text>
<line x1="648.00" y1="225.26" x2="651.20" y2="225.26" stroke="#333" stroke-width="0.7"/>
<text transform="translate(646.00 236.17) scale(0.9091 1)" font-size="7.15" fill="#1c1c1c" text-anchor="end" stroke="#1c1c1c" stroke-width="0.16">6700</text>
<line x1="648.00" y1="233.62" x2="651.20" y2="233.62" stroke="#333" stroke-width="0.7"/>
<text transform="translate(646.00 244.53) scale(0.9091 1)" font-size="7.15" fill="#1c1c1c" text-anchor="end" stroke="#1c1c1c" stroke-width="0.16">6675</text>
<line x1="648.00" y1="241.98" x2="651.20" y2="241.98" stroke="#333" stroke-width="0.7"/>
<text transform="translate(646.00 252.89) scale(0.9091 1)" font-size="7.15" fill="#1c1c1c" text-anchor="end" stroke="#1c1c1c" stroke-width="0.16">6650</text>
<line x1="648.00" y1="250.34" x2="651.20" y2="250.34" stroke="#333" stroke-width="0.7"/>
<text transform="translate(646.00 261.25) scale(0.9091 1)" font-size="7.15" fill="#1c1c1c" text-anchor="end" stroke="#1c1c1c" stroke-width="0.16">6625</text>
<line x1="648.00" y1="258.70" x2="651.20" y2="258.70" stroke="#333" stroke-width="0.7"/>
<text transform="translate(646.00 269.61) scale(0.9091 1)" font-size="7.15" fill="#1c1c1c" text-anchor="end" stroke="#1c1c1c" stroke-width="0.16">6600</text>
<line x1="648.00" y1="267.06" x2="651.20" y2="267.06" stroke="#333" stroke-width="0.7"/>
<text transform="translate(646.00 277.97) scale(0.9091 1)" font-size="7.15" fill="#1c1c1c" text-anchor="end" stroke="#1c1c1c" stroke-width="0.16">6575</text>
<line x1="648.00" y1="275.42" x2="651.20" y2="275.42" stroke="#333" stroke-width="0.7"/>
<text transform="translate(646.00 286.33) scale(0.9091 1)" font-size="7.15" fill="#1c1c1c" text-anchor="end" stroke="#1c1c1c" stroke-width="0.16">6550</text>
<line x1="648.00" y1="283.78" x2="651.20" y2="283.78" stroke="#333" stroke-width="0.7"/>
<text transform="translate(646.00 294.69) scale(0.9091 1)" font-size="7.15" fill="#1c1c1c" text-anchor="end" stroke="#1c1c1c" stroke-width="0.16">6525</text>
<line x1="648.00" y1="292.14" x2="651.20" y2="292.14" stroke="#333" stroke-width="0.7"/>
<text transform="translate(646.00 303.05) scale(0.9091 1)" font-size="7.15" fill="#1c1c1c" text-anchor="end" stroke="#1c1c1c" stroke-width="0.16">6500</text>
<line x1="648.00" y1="300.50" x2="651.20" y2="300.50" stroke="#333" stroke-width="0.7"/>
<text transform="translate(646.00 311.41) scale(0.9091 1)" font-size="7.15" fill="#1c1c1c" text-anchor="end" stroke="#1c1c1c" stroke-width="0.16">6475</text>
<line x1="648.00" y1="308.86" x2="651.20" y2="308.86" stroke="#333" stroke-width="0.7"/>
<text transform="translate(646.00 319.77) scale(0.9091 1)" font-size="7.15" fill="#1c1c1c" text-anchor="end" stroke="#1c1c1c" stroke-width="0.16">6450</text>
<line x1="648.00" y1="317.22" x2="651.20" y2="317.22" stroke="#333" stroke-width="0.7"/>
<text transform="translate(646.00 328.13) scale(0.9091 1)" font-size="7.15" fill="#1c1c1c" text-anchor="end" stroke="#1c1c1c" stroke-width="0.16">6425</text>
<line x1="648.00" y1="325.58" x2="651.20" y2="325.58" stroke="#333" stroke-width="0.7"/>
<text transform="translate(646.00 336.49) scale(0.9091 1)" font-size="7.15" fill="#1c1c1c" text-anchor="end" stroke="#1c1c1c" stroke-width="0.16">6400</text>
<line x1="648.00" y1="333.94" x2="651.20" y2="333.94" stroke="#333" stroke-width="0.7"/>
<text transform="translate(646.00 344.85) scale(0.9091 1)" font-size="7.15" fill="#1c1c1c" text-anchor="end" stroke="#1c1c1c" stroke-width="0.16">6375</text>
<line x1="648.00" y1="342.30" x2="651.20" y2="342.30" stroke="#333" stroke-width="0.7"/>
<text transform="translate(646.00 353.21) scale(0.9091 1)" font-size="7.15" fill="#1c1c1c" text-anchor="end" stroke="#1c1c1c" stroke-width="0.16">6350</text>
<line x1="648.00" y1="350.66" x2="651.20" y2="350.66" stroke="#333" stroke-width="0.7"/>
<text transform="translate(646.00 361.57) scale(0.9091 1)" font-size="7.15" fill="#1c1c1c" text-anchor="end" stroke="#1c1c1c" stroke-width="0.16">6325</text>
<line x1="648.00" y1="359.02" x2="651.20" y2="359.02" stroke="#333" stroke-width="0.7"/>
<text transform="translate(646.00 369.93) scale(0.9091 1)" font-size="7.15" fill="#1c1c1c" text-anchor="end" stroke="#1c1c1c" stroke-width="0.16">6300</text>
<line x1="648.00" y1="367.38" x2="651.20" y2="367.38" stroke="#333" stroke-width="0.7"/>
<text transform="translate(646.00 378.29) scale(0.9091 1)" font-size="7.15" fill="#1c1c1c" text-anchor="end" stroke="#1c1c1c" stroke-width="0.16">6275</text>
<line x1="648.00" y1="375.74" x2="651.20" y2="375.74" stroke="#333" stroke-width="0.7"/>
<text transform="translate(646.00 386.65) scale(0.9091 1)" font-size="7.15" fill="#1c1c1c" text-anchor="end" stroke="#1c1c1c" stroke-width="0.16">6250</text>
<line x1="648.00" y1="384.10" x2="651.20" y2="384.10" stroke="#333" stroke-width="0.7"/>
<text transform="translate(646.00 395.01) scale(0.9091 1)" font-size="7.15" fill="#1c1c1c" text-anchor="end" stroke="#1c1c1c" stroke-width="0.16">6225</text>
<line x1="648.00" y1="392.46" x2="651.20" y2="392.46" stroke="#333" stroke-width="0.7"/>
<rect x="774.71" y="54.46" width="12.30" height="3.30" fill="#20e620"/>
<rect x="774.71" y="62.82" width="18.57" height="3.30" fill="#20e620"/>
<rect x="744.70" y="71.18" width="30.01" height="3.30" fill="#20e620"/>
<rect x="774.71" y="79.54" width="0.50" height="3.30" fill="#777"/>
<rect x="774.71" y="83.14" width="0.50" height="3.30" fill="#777"/>
<rect x="713.99" y="87.90" width="60.72" height="3.30" fill="#20e620"/>
<rect x="756.14" y="96.26" width="18.57" height="3.30" fill="#20e620"/>
<rect x="774.71" y="99.86" width="0.50" height="3.30" fill="#777"/>
<rect x="769.11" y="104.62" width="5.60" height="3.30" fill="#20e620"/>
<rect x="774.71" y="108.22" width="1.76" height="3.30" fill="#d81410"/>
<rect x="756.80" y="112.98" width="17.91" height="3.30" fill="#20e620"/>
<rect x="774.71" y="116.58" width="3.58" height="3.30" fill="#d81410"/>
<rect x="774.71" y="121.34" width="28.95" height="3.30" fill="#20e620"/>
<rect x="774.71" y="124.94" width="3.38" height="3.30" fill="#d81410"/>
<rect x="721.68" y="129.70" width="53.03" height="3.30" fill="#20e620"/>
<rect x="774.71" y="133.30" width="64.24" height="3.30" fill="#d81410"/>
<rect x="767.15" y="138.06" width="7.56" height="3.30" fill="#20e620"/>
<rect x="774.71" y="141.66" width="1.06" height="3.30" fill="#d81410"/>
<rect x="765.89" y="146.42" width="8.82" height="3.30" fill="#20e620"/>
<rect x="774.71" y="150.02" width="65.46" height="3.30" fill="#d81410"/>
<rect x="774.71" y="154.78" width="0.50" height="3.30" fill="#777"/>
<rect x="772.26" y="158.38" width="2.45" height="3.30" fill="#d81410"/>
<rect x="773.75" y="163.14" width="0.96" height="3.30" fill="#20e620"/>
<rect x="774.71" y="166.74" width="58.67" height="3.30" fill="#d81410"/>
<rect x="774.21" y="171.50" width="0.50" height="3.30" fill="#777"/>
<rect x="774.71" y="175.10" width="4.51" height="3.30" fill="#d81410"/>
<rect x="774.21" y="179.86" width="0.50" height="3.30" fill="#777"/>
<rect x="774.71" y="183.46" width="49.15" height="3.30" fill="#d81410"/>
<rect x="774.21" y="188.22" width="0.50" height="3.30" fill="#777"/>
<rect x="774.71" y="191.82" width="1.39" height="3.30" fill="#d81410"/>
<rect x="689.12" y="196.58" width="85.59" height="3.30" fill="#20e620"/>
<rect x="774.71" y="200.18" width="8.26" height="3.30" fill="#d81410"/>
<rect x="774.71" y="204.94" width="0.50" height="3.30" fill="#777"/>
<rect x="767.12" y="208.54" width="7.59" height="3.30" fill="#d81410"/>
<rect x="774.21" y="213.30" width="0.50" height="3.30" fill="#777"/>
<rect x="774.71" y="216.90" width="2.98" height="3.30" fill="#d81410"/>
<rect x="774.71" y="221.66" width="0.50" height="3.30" fill="#777"/>
<rect x="772.06" y="225.26" width="2.65" height="3.30" fill="#d81410"/>
<rect x="695.35" y="230.02" width="79.36" height="3.30" fill="#20e620"/>
<rect x="763.34" y="233.62" width="11.37" height="3.30" fill="#d81410"/>
<rect x="774.21" y="238.38" width="0.50" height="3.30" fill="#777"/>
<rect x="771.99" y="241.98" width="2.72" height="3.30" fill="#d81410"/>
<rect x="774.71" y="246.74" width="0.50" height="3.30" fill="#777"/>
<rect x="766.59" y="250.34" width="8.12" height="3.30" fill="#d81410"/>
<rect x="774.71" y="258.70" width="2.52" height="3.30" fill="#d81410"/>
<rect x="774.71" y="263.46" width="0.50" height="3.30" fill="#777"/>
<rect x="774.71" y="267.06" width="0.50" height="3.30" fill="#777"/>
<rect x="774.71" y="271.82" width="0.50" height="3.30" fill="#777"/>
<rect x="774.71" y="280.18" width="0.50" height="3.30" fill="#777"/>
<rect x="774.71" y="283.78" width="10.98" height="3.30" fill="#d81410"/>
<rect x="774.21" y="288.54" width="0.50" height="3.30" fill="#777"/>
<rect x="774.15" y="292.14" width="0.56" height="3.30" fill="#d81410"/>
<rect x="770.10" y="300.50" width="4.61" height="3.30" fill="#d81410"/>
<rect x="774.71" y="305.26" width="0.50" height="3.30" fill="#777"/>
<rect x="774.71" y="313.62" width="0.50" height="3.30" fill="#777"/>
<rect x="774.21" y="317.22" width="0.50" height="3.30" fill="#777"/>
<rect x="774.71" y="333.94" width="0.50" height="3.30" fill="#777"/>
<rect x="774.21" y="342.30" width="0.50" height="3.30" fill="#777"/>
<rect x="774.21" y="350.66" width="0.50" height="3.30" fill="#777"/>
<rect x="774.21" y="359.02" width="0.50" height="3.30" fill="#777"/>
<rect x="772.72" y="367.38" width="1.99" height="3.30" fill="#d81410"/>
<rect x="774.21" y="384.10" width="0.50" height="3.30" fill="#777"/>
<text transform="translate(790.21 58.66) scale(0.9091 1)" font-size="7.15" fill="#1c1c1c" stroke="#1c1c1c" stroke-width="0.16">371</text>
<text transform="translate(796.48 67.02) scale(0.9091 1)" font-size="7.15" fill="#1c1c1c" stroke="#1c1c1c" stroke-width="0.16">560</text>
<text transform="translate(741.90 75.38) scale(0.9091 1)" font-size="7.15" fill="#1c1c1c" text-anchor="end" stroke="#1c1c1c" stroke-width="0.16">-905</text>
<text transform="translate(778.04 83.74) scale(0.9091 1)" font-size="7.15" fill="#1c1c1c" stroke="#1c1c1c" stroke-width="0.16">4</text>
<text transform="translate(778.24 87.34) scale(0.9091 1)" font-size="7.15" fill="#1c1c1c" stroke="#1c1c1c" stroke-width="0.16">10</text>
<text transform="translate(711.19 92.10) scale(0.9091 1)" font-size="7.15" fill="#1c1c1c" text-anchor="end" stroke="#1c1c1c" stroke-width="0.16">-1831</text>
<text transform="translate(753.34 100.46) scale(0.9091 1)" font-size="7.15" fill="#1c1c1c" text-anchor="end" stroke="#1c1c1c" stroke-width="0.16">-560</text>
<text transform="translate(778.24 104.06) scale(0.9091 1)" font-size="7.15" fill="#1c1c1c" stroke="#1c1c1c" stroke-width="0.16">10</text>
<text transform="translate(766.31 108.82) scale(0.9091 1)" font-size="7.15" fill="#1c1c1c" text-anchor="end" stroke="#1c1c1c" stroke-width="0.16">-169</text>
<text transform="translate(779.67 112.42) scale(0.9091 1)" font-size="7.15" fill="#1c1c1c" stroke="#1c1c1c" stroke-width="0.16">53</text>
<text transform="translate(754.00 117.18) scale(0.9091 1)" font-size="7.15" fill="#1c1c1c" text-anchor="end" stroke="#1c1c1c" stroke-width="0.16">-540</text>
<text transform="translate(781.49 120.78) scale(0.9091 1)" font-size="7.15" fill="#1c1c1c" stroke="#1c1c1c" stroke-width="0.16">108</text>
<text transform="translate(806.86 125.54) scale(0.9091 1)" font-size="7.15" fill="#1c1c1c" stroke="#1c1c1c" stroke-width="0.16">873</text>
<text transform="translate(781.29 129.14) scale(0.9091 1)" font-size="7.15" fill="#1c1c1c" stroke="#1c1c1c" stroke-width="0.16">102</text>
<text transform="translate(718.88 133.90) scale(0.9091 1)" font-size="7.15" fill="#1c1c1c" text-anchor="end" stroke="#1c1c1c" stroke-width="0.16">-1599</text>
<text transform="translate(842.15 137.50) scale(0.9091 1)" font-size="7.15" fill="#1c1c1c" stroke="#1c1c1c" stroke-width="0.16">1937</text>
<text transform="translate(764.35 142.26) scale(0.9091 1)" font-size="7.15" fill="#1c1c1c" text-anchor="end" stroke="#1c1c1c" stroke-width="0.16">-228</text>
<text transform="translate(778.97 145.86) scale(0.9091 1)" font-size="7.15" fill="#1c1c1c" stroke="#1c1c1c" stroke-width="0.16">32</text>
<text transform="translate(763.09 150.62) scale(0.9091 1)" font-size="7.15" fill="#1c1c1c" text-anchor="end" stroke="#1c1c1c" stroke-width="0.16">-266</text>
<text transform="translate(843.38 154.22) scale(0.9091 1)" font-size="7.15" fill="#1c1c1c" stroke="#1c1c1c" stroke-width="0.16">1974</text>
<text transform="translate(777.98 158.98) scale(0.9091 1)" font-size="7.15" fill="#1c1c1c" stroke="#1c1c1c" stroke-width="0.16">2</text>
<text transform="translate(769.46 162.58) scale(0.9091 1)" font-size="7.15" fill="#1c1c1c" text-anchor="end" stroke="#1c1c1c" stroke-width="0.16">-74</text>
<text transform="translate(770.95 167.34) scale(0.9091 1)" font-size="7.15" fill="#1c1c1c" text-anchor="end" stroke="#1c1c1c" stroke-width="0.16">-29</text>
<text transform="translate(836.58 170.94) scale(0.9091 1)" font-size="7.15" fill="#1c1c1c" stroke="#1c1c1c" stroke-width="0.16">1769</text>
<text transform="translate(771.88 175.70) scale(0.9091 1)" font-size="7.15" fill="#1c1c1c" text-anchor="end" stroke="#1c1c1c" stroke-width="0.16">-1</text>
<text transform="translate(782.42 179.30) scale(0.9091 1)" font-size="7.15" fill="#1c1c1c" stroke="#1c1c1c" stroke-width="0.16">136</text>
<text transform="translate(771.55 184.06) scale(0.9091 1)" font-size="7.15" fill="#1c1c1c" text-anchor="end" stroke="#1c1c1c" stroke-width="0.16">-11</text>
<text transform="translate(827.06 187.66) scale(0.9091 1)" font-size="7.15" fill="#1c1c1c" stroke="#1c1c1c" stroke-width="0.16">1482</text>
<text transform="translate(771.88 192.42) scale(0.9091 1)" font-size="7.15" fill="#1c1c1c" text-anchor="end" stroke="#1c1c1c" stroke-width="0.16">-1</text>
<text transform="translate(779.30 196.02) scale(0.9091 1)" font-size="7.15" fill="#1c1c1c" stroke="#1c1c1c" stroke-width="0.16">42</text>
<text transform="translate(686.32 200.78) scale(0.9091 1)" font-size="7.15" fill="#1c1c1c" text-anchor="end" stroke="#1c1c1c" stroke-width="0.16">-2581</text>
<text transform="translate(786.17 204.38) scale(0.9091 1)" font-size="7.15" fill="#1c1c1c" stroke="#1c1c1c" stroke-width="0.16">249</text>
<text transform="translate(778.08 209.14) scale(0.9091 1)" font-size="7.15" fill="#1c1c1c" stroke="#1c1c1c" stroke-width="0.16">5</text>
<text transform="translate(764.32 212.74) scale(0.9091 1)" font-size="7.15" fill="#1c1c1c" text-anchor="end" stroke="#1c1c1c" stroke-width="0.16">-229</text>
<text transform="translate(771.84 217.50) scale(0.9091 1)" font-size="7.15" fill="#1c1c1c" text-anchor="end" stroke="#1c1c1c" stroke-width="0.16">-2</text>
<text transform="translate(780.90 221.10) scale(0.9091 1)" font-size="7.15" fill="#1c1c1c" stroke="#1c1c1c" stroke-width="0.16">90</text>
<text transform="translate(777.98 225.86) scale(0.9091 1)" font-size="7.15" fill="#1c1c1c" stroke="#1c1c1c" stroke-width="0.16">2</text>
<text transform="translate(769.26 229.46) scale(0.9091 1)" font-size="7.15" fill="#1c1c1c" text-anchor="end" stroke="#1c1c1c" stroke-width="0.16">-80</text>
<text transform="translate(692.55 234.22) scale(0.9091 1)" font-size="7.15" fill="#1c1c1c" text-anchor="end" stroke="#1c1c1c" stroke-width="0.16">-2393</text>
<text transform="translate(760.54 237.82) scale(0.9091 1)" font-size="7.15" fill="#1c1c1c" text-anchor="end" stroke="#1c1c1c" stroke-width="0.16">-343</text>
<text transform="translate(771.84 242.58) scale(0.9091 1)" font-size="7.15" fill="#1c1c1c" text-anchor="end" stroke="#1c1c1c" stroke-width="0.16">-2</text>
<text transform="translate(769.19 246.18) scale(0.9091 1)" font-size="7.15" fill="#1c1c1c" text-anchor="end" stroke="#1c1c1c" stroke-width="0.16">-82</text>
<text transform="translate(777.94 250.94) scale(0.9091 1)" font-size="7.15" fill="#1c1c1c" stroke="#1c1c1c" stroke-width="0.16">1</text>
<text transform="translate(763.79 254.54) scale(0.9091 1)" font-size="7.15" fill="#1c1c1c" text-anchor="end" stroke="#1c1c1c" stroke-width="0.16">-245</text>
<text transform="translate(780.43 262.90) scale(0.9091 1)" font-size="7.15" fill="#1c1c1c" stroke="#1c1c1c" stroke-width="0.16">76</text>
<text transform="translate(778.04 267.66) scale(0.9091 1)" font-size="7.15" fill="#1c1c1c" stroke="#1c1c1c" stroke-width="0.16">4</text>
<text transform="translate(777.98 271.26) scale(0.9091 1)" font-size="7.15" fill="#1c1c1c" stroke="#1c1c1c" stroke-width="0.16">2</text>
<text transform="translate(777.94 276.02) scale(0.9091 1)" font-size="7.15" fill="#1c1c1c" stroke="#1c1c1c" stroke-width="0.16">1</text>
<text transform="translate(778.01 284.38) scale(0.9091 1)" font-size="7.15" fill="#1c1c1c" stroke="#1c1c1c" stroke-width="0.16">3</text>
<text transform="translate(788.89 287.98) scale(0.9091 1)" font-size="7.15" fill="#1c1c1c" stroke="#1c1c1c" stroke-width="0.16">331</text>
<text transform="translate(771.88 292.74) scale(0.9091 1)" font-size="7.15" fill="#1c1c1c" text-anchor="end" stroke="#1c1c1c" stroke-width="0.16">-1</text>
<text transform="translate(771.35 296.34) scale(0.9091 1)" font-size="7.15" fill="#1c1c1c" text-anchor="end" stroke="#1c1c1c" stroke-width="0.16">-17</text>
<text transform="translate(767.30 304.70) scale(0.9091 1)" font-size="7.15" fill="#1c1c1c" text-anchor="end" stroke="#1c1c1c" stroke-width="0.16">-139</text>
<text transform="translate(778.08 309.46) scale(0.9091 1)" font-size="7.15" fill="#1c1c1c" stroke="#1c1c1c" stroke-width="0.16">5</text>
<text transform="translate(778.01 317.82) scale(0.9091 1)" font-size="7.15" fill="#1c1c1c" stroke="#1c1c1c" stroke-width="0.16">3</text>
<text transform="translate(771.71 321.42) scale(0.9091 1)" font-size="7.15" fill="#1c1c1c" text-anchor="end" stroke="#1c1c1c" stroke-width="0.16">-6</text>
<text transform="translate(778.41 338.14) scale(0.9091 1)" font-size="7.15" fill="#1c1c1c" stroke="#1c1c1c" stroke-width="0.16">15</text>
<text transform="translate(771.81 346.50) scale(0.9091 1)" font-size="7.15" fill="#1c1c1c" text-anchor="end" stroke="#1c1c1c" stroke-width="0.16">-3</text>
<text transform="translate(771.88 354.86) scale(0.9091 1)" font-size="7.15" fill="#1c1c1c" text-anchor="end" stroke="#1c1c1c" stroke-width="0.16">-1</text>
<text transform="translate(771.88 363.22) scale(0.9091 1)" font-size="7.15" fill="#1c1c1c" text-anchor="end" stroke="#1c1c1c" stroke-width="0.16">-1</text>
<text transform="translate(769.92 371.58) scale(0.9091 1)" font-size="7.15" fill="#1c1c1c" text-anchor="end" stroke="#1c1c1c" stroke-width="0.16">-60</text>
<text transform="translate(771.75 388.30) scale(0.9091 1)" font-size="7.15" fill="#1c1c1c" text-anchor="end" stroke="#1c1c1c" stroke-width="0.16">-5</text>
<line x1="650.60" y1="393.00" x2="650.60" y2="397.50" stroke="#333" stroke-width="0.7"/>
<text transform="translate(650.60 405.20) scale(0.9346 1)" font-size="7.81" fill="#1c1c1c" text-anchor="middle" stroke="#1c1c1c" stroke-width="0.16">-3742.45</text>
<line x1="697.68" y1="393.00" x2="697.68" y2="397.50" stroke="#333" stroke-width="0.7"/>
<text transform="translate(697.68 405.20) scale(0.9346 1)" font-size="7.81" fill="#1c1c1c" text-anchor="middle" stroke="#1c1c1c" stroke-width="0.16">-2322.8</text>
<line x1="744.76" y1="393.00" x2="744.76" y2="397.50" stroke="#333" stroke-width="0.7"/>
<text transform="translate(744.76 405.20) scale(0.9346 1)" font-size="7.81" fill="#1c1c1c" text-anchor="middle" stroke="#1c1c1c" stroke-width="0.16">-903.15</text>
<line x1="791.84" y1="393.00" x2="791.84" y2="397.50" stroke="#333" stroke-width="0.7"/>
<text transform="translate(791.84 405.20) scale(0.9346 1)" font-size="7.81" fill="#1c1c1c" text-anchor="middle" stroke="#1c1c1c" stroke-width="0.16">516.5</text>
<line x1="838.92" y1="393.00" x2="838.92" y2="397.50" stroke="#333" stroke-width="0.7"/>
<text transform="translate(838.92 405.20) scale(0.9346 1)" font-size="7.81" fill="#1c1c1c" text-anchor="middle" stroke="#1c1c1c" stroke-width="0.16">1936.15</text>
<line x1="886.00" y1="393.00" x2="886.00" y2="397.50" stroke="#333" stroke-width="0.7"/>
<text transform="translate(886.00 405.20) scale(0.9346 1)" font-size="7.81" fill="#1c1c1c" text-anchor="middle" stroke="#1c1c1c" stroke-width="0.16">3355.8</text>
<line x1="651.00" y1="108.50" x2="846.20" y2="108.50" stroke="#333" stroke-width="0.8"/>
<text x="846.60" y="111.20" font-size="7.5" fill="#111" font-weight="bold" textLength="29.80" lengthAdjust="spacingAndGlyphs">7 074.75</text>
<line x1="774.71" y1="117.00" x2="858.60" y2="117.00" stroke="#5a5ad0" stroke-width="0.8"/>
<circle cx="859.40" cy="117.00" r="0.9" fill="#111"/>
<text x="862.20" y="119.80" font-size="7.5" fill="#111" font-weight="bold" textLength="15.60" lengthAdjust="spacingAndGlyphs">80%</text>
<line x1="774.71" y1="187.60" x2="858.60" y2="187.60" stroke="#5a5ad0" stroke-width="0.8"/>
<circle cx="859.40" cy="187.60" r="0.9" fill="#111"/>
<text x="862.20" y="190.40" font-size="7.5" fill="#111" font-weight="bold" textLength="15.60" lengthAdjust="spacingAndGlyphs">40%</text>
<line x1="774.71" y1="335.80" x2="857.00" y2="335.80" stroke="#5a5ad0" stroke-width="0.8"/>
<circle cx="857.80" cy="335.80" r="0.9" fill="#111"/>
<text x="859.20" y="338.60" font-size="7.5" fill="#111" font-weight="bold" textLength="18.60" lengthAdjust="spacingAndGlyphs">-40%</text>
<text x="761.50" y="426.00" font-size="8.6" fill="#333" text-anchor="middle" font-family='"Liberation Serif", serif' stroke="#333" stroke-width="0.22" textLength="229.00" lengthAdjust="spacingAndGlyphs">DIFF. OPEN INTEREST TRA IL 14/04/2026 E 15/04/2026</text>
<line x1="920.00" y1="49.60" x2="1178.00" y2="49.60" stroke="#e6e6e2" stroke-width="0.9"/>
<text transform="translate(1180.80 52.40) scale(0.9524 1)" font-size="7.98" fill="#1c1c1c" stroke="#1c1c1c" stroke-width="0.16">7300</text>
<line x1="920.00" y1="59.02" x2="1178.00" y2="59.02" stroke="#ebe9df" stroke-width="0.9"/>
<text transform="translate(1180.80 61.82) scale(0.9524 1)" font-size="7.98" fill="#1c1c1c" stroke="#1c1c1c" stroke-width="0.16">7250</text>
<line x1="920.00" y1="68.43" x2="1178.00" y2="68.43" stroke="#e6e6e2" stroke-width="0.9"/>
<text transform="translate(1180.80 71.23) scale(0.9524 1)" font-size="7.98" fill="#1c1c1c" stroke="#1c1c1c" stroke-width="0.16">7200</text>
<line x1="920.00" y1="77.85" x2="1178.00" y2="77.85" stroke="#ebe9df" stroke-width="0.9"/>
<text transform="translate(1180.80 80.65) scale(0.9524 1)" font-size="7.98" fill="#1c1c1c" stroke="#1c1c1c" stroke-width="0.16">7150</text>
<line x1="920.00" y1="87.27" x2="1178.00" y2="87.27" stroke="#e6e6e2" stroke-width="0.9"/>
<text transform="translate(1180.80 90.07) scale(0.9524 1)" font-size="7.98" fill="#1c1c1c" stroke="#1c1c1c" stroke-width="0.16">7100</text>
<line x1="920.00" y1="96.68" x2="1178.00" y2="96.68" stroke="#ebe9df" stroke-width="0.9"/>
<text transform="translate(1180.80 99.48) scale(0.9524 1)" font-size="7.98" fill="#1c1c1c" stroke="#1c1c1c" stroke-width="0.16">7050</text>
<line x1="920.00" y1="106.10" x2="1178.00" y2="106.10" stroke="#e6e6e2" stroke-width="0.9"/>
<text transform="translate(1180.80 108.90) scale(0.9524 1)" font-size="7.98" fill="#1c1c1c" stroke="#1c1c1c" stroke-width="0.16">7000</text>
<line x1="920.00" y1="115.52" x2="1178.00" y2="115.52" stroke="#ebe9df" stroke-width="0.9"/>
<text transform="translate(1180.80 118.32) scale(0.9524 1)" font-size="7.98" fill="#1c1c1c" stroke="#1c1c1c" stroke-width="0.16">6950</text>
<line x1="920.00" y1="124.93" x2="1178.00" y2="124.93" stroke="#e6e6e2" stroke-width="0.9"/>
<text transform="translate(1180.80 127.73) scale(0.9524 1)" font-size="7.98" fill="#1c1c1c" stroke="#1c1c1c" stroke-width="0.16">6900</text>
<line x1="920.00" y1="134.35" x2="1178.00" y2="134.35" stroke="#ebe9df" stroke-width="0.9"/>
<text transform="translate(1180.80 137.15) scale(0.9524 1)" font-size="7.98" fill="#1c1c1c" stroke="#1c1c1c" stroke-width="0.16">6850</text>
<line x1="920.00" y1="143.76" x2="1178.00" y2="143.76" stroke="#e6e6e2" stroke-width="0.9"/>
<text transform="translate(1180.80 146.56) scale(0.9524 1)" font-size="7.98" fill="#1c1c1c" stroke="#1c1c1c" stroke-width="0.16">6800</text>
<line x1="920.00" y1="153.18" x2="1178.00" y2="153.18" stroke="#ebe9df" stroke-width="0.9"/>
<text transform="translate(1180.80 155.98) scale(0.9524 1)" font-size="7.98" fill="#1c1c1c" stroke="#1c1c1c" stroke-width="0.16">6750</text>
<line x1="920.00" y1="162.60" x2="1178.00" y2="162.60" stroke="#e6e6e2" stroke-width="0.9"/>
<text transform="translate(1180.80 165.40) scale(0.9524 1)" font-size="7.98" fill="#1c1c1c" stroke="#1c1c1c" stroke-width="0.16">6700</text>
<line x1="920.00" y1="172.01" x2="1178.00" y2="172.01" stroke="#ebe9df" stroke-width="0.9"/>
<text transform="translate(1180.80 174.81) scale(0.9524 1)" font-size="7.98" fill="#1c1c1c" stroke="#1c1c1c" stroke-width="0.16">6650</text>
<line x1="920.00" y1="181.43" x2="1178.00" y2="181.43" stroke="#e6e6e2" stroke-width="0.9"/>
<text transform="translate(1180.80 184.23) scale(0.9524 1)" font-size="7.98" fill="#1c1c1c" stroke="#1c1c1c" stroke-width="0.16">6600</text>
<line x1="920.00" y1="190.85" x2="1178.00" y2="190.85" stroke="#ebe9df" stroke-width="0.9"/>
<text transform="translate(1180.80 193.65) scale(0.9524 1)" font-size="7.98" fill="#1c1c1c" stroke="#1c1c1c" stroke-width="0.16">6550</text>
<line x1="920.00" y1="200.26" x2="1178.00" y2="200.26" stroke="#e6e6e2" stroke-width="0.9"/>
<text transform="translate(1180.80 203.06) scale(0.9524 1)" font-size="7.98" fill="#1c1c1c" stroke="#1c1c1c" stroke-width="0.16">6500</text>
<line x1="920.00" y1="209.68" x2="1178.00" y2="209.68" stroke="#ebe9df" stroke-width="0.9"/>
<text transform="translate(1180.80 212.48) scale(0.9524 1)" font-size="7.98" fill="#1c1c1c" stroke="#1c1c1c" stroke-width="0.16">6450</text>
<line x1="920.00" y1="219.10" x2="1178.00" y2="219.10" stroke="#e6e6e2" stroke-width="0.9"/>
<text transform="translate(1180.80 221.90) scale(0.9524 1)" font-size="7.98" fill="#1c1c1c" stroke="#1c1c1c" stroke-width="0.16">6400</text>
<line x1="920.00" y1="228.51" x2="1178.00" y2="228.51" stroke="#ebe9df" stroke-width="0.9"/>
<text transform="translate(1180.80 231.31) scale(0.9524 1)" font-size="7.98" fill="#1c1c1c" stroke="#1c1c1c" stroke-width="0.16">6350</text>
<line x1="920.00" y1="237.93" x2="1178.00" y2="237.93" stroke="#e6e6e2" stroke-width="0.9"/>
<text transform="translate(1180.80 240.73) scale(0.9524 1)" font-size="7.98" fill="#1c1c1c" stroke="#1c1c1c" stroke-width="0.16">6300</text>
<line x1="920.00" y1="247.35" x2="1178.00" y2="247.35" stroke="#ebe9df" stroke-width="0.9"/>
<text transform="translate(1180.80 250.15) scale(0.9524 1)" font-size="7.98" fill="#1c1c1c" stroke="#1c1c1c" stroke-width="0.16">6250</text>
<line x1="920.00" y1="256.76" x2="1178.00" y2="256.76" stroke="#e6e6e2" stroke-width="0.9"/>
<text transform="translate(1180.80 259.56) scale(0.9524 1)" font-size="7.98" fill="#1c1c1c" stroke="#1c1c1c" stroke-width="0.16">6200</text>
<line x1="1179.30" y1="254.50" x2="1179.30" y2="259.50" stroke="#333" stroke-width="0.7"/>
<line x1="960.00" y1="35.60" x2="972.50" y2="35.60" stroke="#e9a58f" stroke-width="1.1"/>
<text x="976.50" y="38.20" font-size="6.6" fill="#333" stroke="#333" stroke-width="0.16" textLength="14.80" lengthAdjust="spacingAndGlyphs">DS-2</text>
<line x1="1001.50" y1="35.60" x2="1015.00" y2="35.60" stroke="#cc1f3d" stroke-width="1.1"/>
<text x="1018.30" y="38.20" font-size="6.6" fill="#333" stroke="#333" stroke-width="0.16" textLength="14.00" lengthAdjust="spacingAndGlyphs">DS-1</text>
<line x1="1043.00" y1="35.60" x2="1056.30" y2="35.60" stroke="#3ee03e" stroke-width="1.1"/>
<text x="1060.00" y="38.20" font-size="6.6" fill="#333" stroke="#333" stroke-width="0.16" textLength="16.00" lengthAdjust="spacingAndGlyphs">DS+1</text>
<line x1="1085.60" y1="35.60" x2="1098.20" y2="35.60" stroke="#2f7d3a" stroke-width="1.1"/>
<text x="1102.00" y="38.20" font-size="6.6" fill="#333" stroke="#333" stroke-width="0.16" textLength="16.50" lengthAdjust="spacingAndGlyphs">DS+2</text>
<line x1="1127.00" y1="35.60" x2="1140.20" y2="35.60" stroke="#111" stroke-width="1.1" stroke-dasharray="3.2 1.6"/>
<text x="1144.00" y="38.20" font-size="6.6" fill="#333" stroke="#333" stroke-width="0.16" textLength="15.30" lengthAdjust="spacingAndGlyphs">PrzTr</text>
<line x1="955.00" y1="92.10" x2="1178.00" y2="92.10" stroke="#777" stroke-width="0.8" stroke-dasharray="1.4 1"/>
<text x="923.00" y="94.60" font-size="7.2" fill="#111" font-weight="bold" textLength="26.80" lengthAdjust="spacingAndGlyphs">7074.75</text>
<line x1="920.00" y1="96.80" x2="1179.50" y2="96.80" stroke="#1c1ca6" stroke-width="1.6"/>
<line x1="920.00" y1="136.20" x2="1179.50" y2="136.20" stroke="#1c1ca6" stroke-width="1.6"/>
<line x1="920.00" y1="219.10" x2="1179.50" y2="219.10" stroke="#1c1ca6" stroke-width="1.6"/>
<text x="1175.00" y="92.30" font-size="6.6" fill="#222" stroke="#222" stroke-width="0.16" textLength="9.20" lengthAdjust="spacingAndGlyphs">+80</text>
<text x="1175.00" y="130.80" font-size="6.6" fill="#222" stroke="#222" stroke-width="0.16" textLength="9.20" lengthAdjust="spacingAndGlyphs">+40</text>
<text x="1175.60" y="216.40" font-size="6.6" fill="#222" stroke="#222" stroke-width="0.16" textLength="8.20" lengthAdjust="spacingAndGlyphs">-40</text>
<line x1="936.20" y1="165.50" x2="936.20" y2="178.40" stroke="#555" stroke-width="0.9"/>
<line x1="930.20" y1="172.90" x2="942.20" y2="172.90" stroke="#2a1010" stroke-width="1.3"/>
<line x1="950.49" y1="172.30" x2="950.49" y2="197.10" stroke="#555" stroke-width="0.9"/>
<rect x="944.79" y="173.40" width="11.4" height="19.90" fill="#f20d0d" stroke="#8a1414" stroke-width="0.7"/>
<line x1="964.78" y1="187.40" x2="964.78" y2="220.20" stroke="#555" stroke-width="0.9"/>
<rect x="959.08" y="193.10" width="11.4" height="26.90" fill="#f20d0d" stroke="#8a1414" stroke-width="0.7"/>
<line x1="979.06" y1="203.20" x2="979.06" y2="227.10" stroke="#555" stroke-width="0.9"/>
<line x1="973.06" y1="222.50" x2="985.06" y2="222.50" stroke="#2a1010" stroke-width="1.3"/>
<line x1="993.35" y1="184.20" x2="993.35" y2="228.50" stroke="#555" stroke-width="0.9"/>
<rect x="987.65" y="187.40" width="11.4" height="33.70" fill="#12f212" stroke="#1c6e1c" stroke-width="0.7"/>
<line x1="1007.64" y1="170.90" x2="1007.64" y2="188.90" stroke="#555" stroke-width="0.9"/>
<rect x="1001.94" y="178.40" width="11.4" height="10.30" fill="#12f212" stroke="#1c6e1c" stroke-width="0.7"/>
<line x1="1021.93" y1="172.80" x2="1021.93" y2="199.70" stroke="#555" stroke-width="0.9"/>
<line x1="1015.93" y1="177.20" x2="1027.93" y2="177.20" stroke="#2a1010" stroke-width="1.3"/>
<line x1="1036.22" y1="174.80" x2="1036.22" y2="181.80" stroke="#555" stroke-width="0.9"/>
<rect x="1030.52" y="177.40" width="11.4" height="3.40" fill="#f20d0d" stroke="#8a1414" stroke-width="0.7"/>
<line x1="1050.50" y1="169.30" x2="1050.50" y2="187.80" stroke="#555" stroke-width="0.9"/>
<rect x="1044.80" y="171.90" width="11.4" height="11.50" fill="#12f212" stroke="#1c6e1c" stroke-width="0.7"/>
<line x1="1064.79" y1="167.30" x2="1064.79" y2="185.80" stroke="#555" stroke-width="0.9"/>
<rect x="1059.09" y="169.10" width="11.4" height="2.80" fill="#12f212" stroke="#1c6e1c" stroke-width="0.7"/>
<line x1="1079.08" y1="135.20" x2="1079.08" y2="171.20" stroke="#555" stroke-width="0.9"/>
<rect x="1073.38" y="140.90" width="11.4" height="23.40" fill="#12f212" stroke="#1c6e1c" stroke-width="0.7"/>
<line x1="1093.37" y1="129.30" x2="1093.37" y2="145.00" stroke="#555" stroke-width="0.9"/>
<rect x="1087.67" y="132.10" width="11.4" height="8.80" fill="#12f212" stroke="#1c6e1c" stroke-width="0.7"/>
<line x1="1107.66" y1="127.50" x2="1107.66" y2="134.50" stroke="#555" stroke-width="0.9"/>
<line x1="1101.66" y1="132.20" x2="1113.66" y2="132.20" stroke="#1c5a1c" stroke-width="1.5"/>
<line x1="1121.94" y1="119.80" x2="1121.94" y2="149.90" stroke="#555" stroke-width="0.9"/>
<rect x="1116.24" y="120.10" width="11.4" height="27.50" fill="#12f212" stroke="#1c6e1c" stroke-width="0.7"/>
<line x1="1136.23" y1="104.20" x2="1136.23" y2="121.10" stroke="#555" stroke-width="0.9"/>
<rect x="1130.53" y="104.90" width="11.4" height="15.20" fill="#12f212" stroke="#1c6e1c" stroke-width="0.7"/>
<line x1="1150.52" y1="94.60" x2="1150.52" y2="107.50" stroke="#555" stroke-width="0.9"/>
<rect x="1144.82" y="95.40" width="11.4" height="10.30" fill="#12f212" stroke="#1c6e1c" stroke-width="0.7"/>
<line x1="1164.81" y1="91.20" x2="1164.81" y2="95.80" stroke="#555" stroke-width="0.9"/>
<rect x="1159.11" y="91.50" width="11.4" height="4.10" fill="#12f212" stroke="#1c6e1c" stroke-width="0.7"/>
<line x1="921.20" y1="256.20" x2="921.20" y2="260.80" stroke="#333" stroke-width="0.7"/>
<line x1="935.90" y1="256.20" x2="935.90" y2="261.00" stroke="#333" stroke-width="0.7"/>
<text transform="translate(937.60,293.2) rotate(-90)" font-size="7.4" fill="#1c1c1c" stroke="#1c1c1c" stroke-width="0.14" textLength="31" lengthAdjust="spacingAndGlyphs">25/03/2026</text>
<line x1="950.19" y1="256.20" x2="950.19" y2="261.00" stroke="#333" stroke-width="0.7"/>
<text transform="translate(951.89,293.2) rotate(-90)" font-size="7.4" fill="#1c1c1c" stroke="#1c1c1c" stroke-width="0.14" textLength="31" lengthAdjust="spacingAndGlyphs">26/03/2026</text>
<line x1="964.48" y1="256.20" x2="964.48" y2="261.00" stroke="#333" stroke-width="0.7"/>
<text transform="translate(966.18,293.2) rotate(-90)" font-size="7.4" fill="#1c1c1c" stroke="#1c1c1c" stroke-width="0.14" textLength="31" lengthAdjust="spacingAndGlyphs">27/03/2026</text>
<line x1="978.76" y1="256.20" x2="978.76" y2="261.00" stroke="#333" stroke-width="0.7"/>
<text transform="translate(980.46,293.2) rotate(-90)" font-size="7.4" fill="#1c1c1c" stroke="#1c1c1c" stroke-width="0.14" textLength="31" lengthAdjust="spacingAndGlyphs">30/03/2026</text>
<line x1="993.05" y1="256.20" x2="993.05" y2="261.00" stroke="#333" stroke-width="0.7"/>
<text transform="translate(994.75,293.2) rotate(-90)" font-size="7.4" fill="#1c1c1c" stroke="#1c1c1c" stroke-width="0.14" textLength="31" lengthAdjust="spacingAndGlyphs">31/03/2026</text>
<line x1="1007.34" y1="256.20" x2="1007.34" y2="261.00" stroke="#333" stroke-width="0.7"/>
<text transform="translate(1009.04,293.2) rotate(-90)" font-size="7.4" fill="#1c1c1c" stroke="#1c1c1c" stroke-width="0.14" textLength="31" lengthAdjust="spacingAndGlyphs">01/04/2026</text>
<line x1="1021.63" y1="256.20" x2="1021.63" y2="261.00" stroke="#333" stroke-width="0.7"/>
<text transform="translate(1023.33,293.2) rotate(-90)" font-size="7.4" fill="#1c1c1c" stroke="#1c1c1c" stroke-width="0.14" textLength="31" lengthAdjust="spacingAndGlyphs">02/04/2026</text>
<line x1="1035.92" y1="256.20" x2="1035.92" y2="261.00" stroke="#333" stroke-width="0.7"/>
<text transform="translate(1037.62,293.2) rotate(-90)" font-size="7.4" fill="#1c1c1c" stroke="#1c1c1c" stroke-width="0.14" textLength="31" lengthAdjust="spacingAndGlyphs">03/04/2026</text>
<line x1="1050.20" y1="256.20" x2="1050.20" y2="261.00" stroke="#333" stroke-width="0.7"/>
<text transform="translate(1051.90,293.2) rotate(-90)" font-size="7.4" fill="#1c1c1c" stroke="#1c1c1c" stroke-width="0.14" textLength="31" lengthAdjust="spacingAndGlyphs">06/04/2026</text>
<line x1="1064.49" y1="256.20" x2="1064.49" y2="261.00" stroke="#333" stroke-width="0.7"/>
<text transform="translate(1066.19,293.2) rotate(-90)" font-size="7.4" fill="#1c1c1c" stroke="#1c1c1c" stroke-width="0.14" textLength="31" lengthAdjust="spacingAndGlyphs">07/04/2026</text>
<line x1="1078.78" y1="256.20" x2="1078.78" y2="261.00" stroke="#333" stroke-width="0.7"/>
<text transform="translate(1080.48,293.2) rotate(-90)" font-size="7.4" fill="#1c1c1c" stroke="#1c1c1c" stroke-width="0.14" textLength="31" lengthAdjust="spacingAndGlyphs">08/04/2026</text>
<line x1="1093.07" y1="256.20" x2="1093.07" y2="261.00" stroke="#333" stroke-width="0.7"/>
<text transform="translate(1094.77,293.2) rotate(-90)" font-size="7.4" fill="#1c1c1c" stroke="#1c1c1c" stroke-width="0.14" textLength="31" lengthAdjust="spacingAndGlyphs">09/04/2026</text>
<line x1="1107.36" y1="256.20" x2="1107.36" y2="261.00" stroke="#333" stroke-width="0.7"/>
<text transform="translate(1109.06,293.2) rotate(-90)" font-size="7.4" fill="#1c1c1c" stroke="#1c1c1c" stroke-width="0.14" textLength="31" lengthAdjust="spacingAndGlyphs">10/04/2026</text>
<line x1="1121.64" y1="256.20" x2="1121.64" y2="261.00" stroke="#333" stroke-width="0.7"/>
<text transform="translate(1123.34,293.2) rotate(-90)" font-size="7.4" fill="#1c1c1c" stroke="#1c1c1c" stroke-width="0.14" textLength="31" lengthAdjust="spacingAndGlyphs">13/04/2026</text>
<line x1="1135.93" y1="256.20" x2="1135.93" y2="261.00" stroke="#333" stroke-width="0.7"/>
<text transform="translate(1137.63,293.2) rotate(-90)" font-size="7.4" fill="#1c1c1c" stroke="#1c1c1c" stroke-width="0.14" textLength="31" lengthAdjust="spacingAndGlyphs">14/04/2026</text>
<line x1="1150.22" y1="256.20" x2="1150.22" y2="261.00" stroke="#333" stroke-width="0.7"/>
<text transform="translate(1151.92,293.2) rotate(-90)" font-size="7.4" fill="#1c1c1c" stroke="#1c1c1c" stroke-width="0.14" textLength="31" lengthAdjust="spacingAndGlyphs">15/04/2026</text>
<line x1="1164.51" y1="256.20" x2="1164.51" y2="261.00" stroke="#333" stroke-width="0.7"/>
<text transform="translate(1166.21,293.2) rotate(-90)" font-size="7.4" fill="#1c1c1c" stroke="#1c1c1c" stroke-width="0.14" textLength="31" lengthAdjust="spacingAndGlyphs">16/04/2026</text>
<line x1="922.00" y1="324.50" x2="1180.00" y2="324.50" stroke="#858585" stroke-width="1.1"/>
<line x1="922.00" y1="342.90" x2="1180.00" y2="342.90" stroke="#858585" stroke-width="1.1"/>
<line x1="922.00" y1="361.30" x2="1180.00" y2="361.30" stroke="#858585" stroke-width="1.1"/>
<line x1="922.00" y1="379.80" x2="1180.00" y2="379.80" stroke="#858585" stroke-width="1.1"/>
<line x1="922.00" y1="398.30" x2="1180.00" y2="398.30" stroke="#858585" stroke-width="1.1"/>
<rect x="930.30" y="380.80" width="11.40" height="27.60" fill="#fff"/>
<rect x="930.60" y="408.40" width="10.80" height="5.80" fill="#077507"/>
<text transform="translate(939.10,406.00) rotate(-90) scale(0.84 1)" font-size="8.7" font-weight="bold" fill="#222" stroke="#222" stroke-width="0.2" textLength="28.81" lengthAdjust="spacing">0.00%</text>
<rect x="944.59" y="368.20" width="11.40" height="27.60" fill="#fff"/>
<rect x="944.89" y="395.80" width="10.80" height="18.40" fill="#077507"/>
<text transform="translate(953.39,393.40) rotate(-90) scale(0.84 1)" font-size="8.7" font-weight="bold" fill="#222" stroke="#222" stroke-width="0.2" textLength="28.81" lengthAdjust="spacing">0.80%</text>
<rect x="958.88" y="361.40" width="11.40" height="27.60" fill="#fff"/>
<rect x="959.18" y="389.00" width="10.80" height="25.20" fill="#077507"/>
<text transform="translate(967.68,386.60) rotate(-90) scale(0.84 1)" font-size="8.7" font-weight="bold" fill="#222" stroke="#222" stroke-width="0.2" textLength="28.81" lengthAdjust="spacing">0.40%</text>
<rect x="973.16" y="318.20" width="11.40" height="27.60" fill="#fff"/>
<rect x="973.46" y="345.80" width="10.80" height="68.40" fill="#077507"/>
<text transform="translate(981.96,343.40) rotate(-90) scale(0.84 1)" font-size="8.7" font-weight="bold" fill="#222" stroke="#222" stroke-width="0.2" textLength="28.81" lengthAdjust="spacing">2.70%</text>
<rect x="987.45" y="324.30" width="11.40" height="31.20" fill="#fff"/>
<rect x="987.75" y="355.50" width="10.80" height="58.70" fill="#077507"/>
<text transform="translate(996.25,353.10) rotate(-90) scale(0.84 1)" font-size="8.7" font-weight="bold" fill="#222" stroke="#222" stroke-width="0.2" textLength="33.10" lengthAdjust="spacing">-0.60%</text>
<rect x="1001.74" y="353.00" width="11.40" height="31.20" fill="#fff"/>
<rect x="1002.04" y="384.20" width="10.80" height="30.00" fill="#077507"/>
<text transform="translate(1010.54,381.80) rotate(-90) scale(0.84 1)" font-size="8.7" font-weight="bold" fill="#222" stroke="#222" stroke-width="0.2" textLength="33.10" lengthAdjust="spacing">-1.80%</text>
<rect x="1016.03" y="345.60" width="11.40" height="27.60" fill="#fff"/>
<rect x="1016.33" y="373.20" width="10.80" height="41.00" fill="#077507"/>
<text transform="translate(1024.83,370.80) rotate(-90) scale(0.84 1)" font-size="8.7" font-weight="bold" fill="#222" stroke="#222" stroke-width="0.2" textLength="28.81" lengthAdjust="spacing">0.70%</text>
<rect x="1030.32" y="345.90" width="11.40" height="31.20" fill="#fff"/>
<rect x="1030.62" y="377.10" width="10.80" height="37.10" fill="#077507"/>
<text transform="translate(1039.12,374.70) rotate(-90) scale(0.84 1)" font-size="8.7" font-weight="bold" fill="#222" stroke="#222" stroke-width="0.2" textLength="33.10" lengthAdjust="spacing">-0.20%</text>
<rect x="1044.60" y="353.60" width="11.40" height="31.20" fill="#fff"/>
<rect x="1044.90" y="384.80" width="10.80" height="29.40" fill="#077507"/>
<text transform="translate(1053.40,382.40) rotate(-90) scale(0.84 1)" font-size="8.7" font-weight="bold" fill="#222" stroke="#222" stroke-width="0.2" textLength="33.10" lengthAdjust="spacing">-0.50%</text>
<rect x="1058.89" y="343.00" width="11.40" height="27.60" fill="#fff"/>
<rect x="1059.19" y="370.60" width="10.80" height="43.60" fill="#077507"/>
<text transform="translate(1067.69,368.20) rotate(-90) scale(0.84 1)" font-size="8.7" font-weight="bold" fill="#222" stroke="#222" stroke-width="0.2" textLength="28.81" lengthAdjust="spacing">0.90%</text>
<rect x="1073.18" y="335.90" width="11.40" height="27.60" fill="#fff"/>
<rect x="1073.48" y="363.50" width="10.80" height="50.70" fill="#077507"/>
<text transform="translate(1081.98,361.10) rotate(-90) scale(0.84 1)" font-size="8.7" font-weight="bold" fill="#222" stroke="#222" stroke-width="0.2" textLength="28.81" lengthAdjust="spacing">0.40%</text>
<rect x="1087.47" y="322.10" width="11.40" height="27.60" fill="#fff"/>
<rect x="1087.77" y="349.70" width="10.80" height="64.50" fill="#077507"/>
<text transform="translate(1096.27,347.30) rotate(-90) scale(0.84 1)" font-size="8.7" font-weight="bold" fill="#222" stroke="#222" stroke-width="0.2" textLength="28.81" lengthAdjust="spacing">0.80%</text>
<rect x="1101.76" y="319.80" width="11.40" height="27.60" fill="#fff"/>
<rect x="1102.06" y="347.40" width="10.80" height="66.80" fill="#077507"/>
<text transform="translate(1110.56,345.00) rotate(-90) scale(0.84 1)" font-size="8.7" font-weight="bold" fill="#222" stroke="#222" stroke-width="0.2" textLength="28.81" lengthAdjust="spacing">0.20%</text>
<rect x="1116.04" y="308.20" width="11.40" height="27.60" fill="#fff"/>
<rect x="1116.34" y="335.80" width="10.80" height="78.40" fill="#077507"/>
<text transform="translate(1124.84,333.40) rotate(-90) scale(0.84 1)" font-size="8.7" font-weight="bold" fill="#222" stroke="#222" stroke-width="0.2" textLength="28.81" lengthAdjust="spacing">0.70%</text>
<rect x="1130.33" y="321.40" width="11.40" height="31.20" fill="#fff"/>
<rect x="1130.63" y="352.60" width="10.80" height="61.60" fill="#077507"/>
<text transform="translate(1139.13,350.20) rotate(-90) scale(0.84 1)" font-size="8.7" font-weight="bold" fill="#222" stroke="#222" stroke-width="0.2" textLength="33.10" lengthAdjust="spacing">-1.00%</text>
<rect x="1144.62" y="325.90" width="11.40" height="31.20" fill="#fff"/>
<rect x="1144.92" y="357.10" width="10.80" height="57.10" fill="#077507"/>
<text transform="translate(1153.42,354.70) rotate(-90) scale(0.84 1)" font-size="8.7" font-weight="bold" fill="#222" stroke="#222" stroke-width="0.2" textLength="33.10" lengthAdjust="spacing">-0.30%</text>
<text x="1058.80" y="426.00" font-size="8.6" fill="#333" text-anchor="middle" font-family='"Liberation Serif", serif' stroke="#333" stroke-width="0.22" textLength="170.70" lengthAdjust="spacingAndGlyphs">OPEN INTEREST FUTURE AL 15/04/2026</text>
</svg></body></html>
